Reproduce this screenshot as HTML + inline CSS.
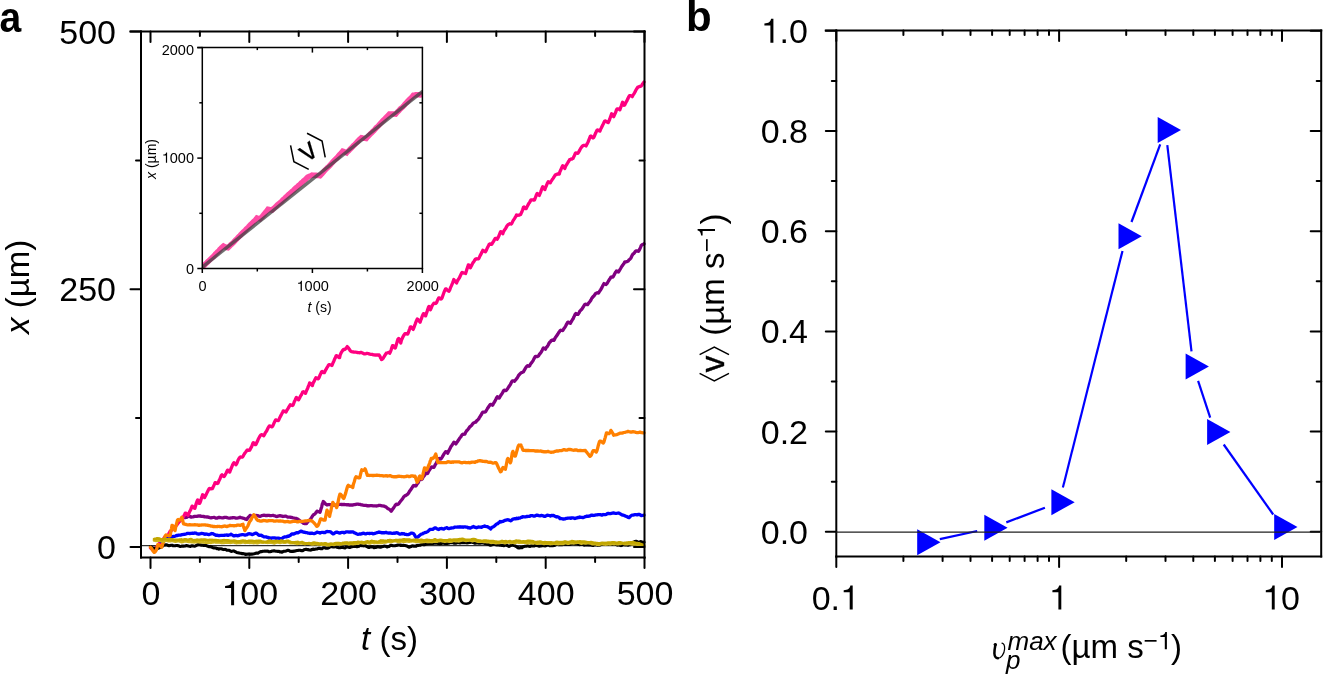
<!DOCTYPE html>
<html><head><meta charset="utf-8"><style>
html,body{margin:0;padding:0;background:#fff;width:1323px;height:675px;overflow:hidden}
svg{display:block;font-family:"Liberation Sans",sans-serif;will-change:transform}
</style></head><body>
<svg width="1323" height="675" viewBox="0 0 1323 675" font-family="Liberation Sans, sans-serif">
<rect width="1323" height="675" fill="#fff"/>
<line x1="141" y1="545.7" x2="644.5" y2="545.7" stroke="#000" stroke-width="1" />
<path d="M184 517.7 L185 517.7 L186 517.4 L187 517.1 L188 516.3 L189 516.5 L190 516.4 L191 517 L192 517 L193 516.8 L194 516.5 L195 516.4 L196 516.3 L197 516.3 L198 516 L199 516.1 L200 515.8 L201 516.3 L202 516.3 L203 516.5 L204 516.4 L205 516.9 L206 516.9 L207 517 L208 516.9 L209 517.4 L210 517.7 L211 517.9 L212 517.7 L213 517.5 L214 517.3 L215 517.7 L216 518.1 L217 518.1 L218 517.7 L219 517.4 L220 517.5 L221 517.7 L222 517.8 L223 517.8 L224 517.5 L225 517.4 L226 517.4 L227 517.7 L228 518 L229 518.2 L230 518.1 L231 517.9 L232 517.9 L233 517.6 L234 517.7 L235 517.8 L236 518.2 L237 518.1 L238 517.9 L239 517.6 L240 517.2 L241 517.7 L241.9 517.8 L242.9 518.2 L243.8 518.3 L244.8 518.7 L245.7 519.2 L246.7 519.5 L247.4 518.6 L248 517.7 L248.7 516.9 L249.3 516.3 L250 515.4 L251 515.8 L252 516 L253 516 L254 515.6 L255 515.5 L256 515.6 L257 515.5 L258 515.7 L259 516.1 L260 516.3 L261 516 L262 515.5 L263 515.3 L264 515.2 L265 515.3 L266 515.6 L267 515.5 L268 515.4 L269 515.4 L270 515.6 L271 515.7 L272 515.5 L273 515.3 L274 515.6 L275 515.8 L276 516.4 L277 516.5 L278 516.1 L279 515.9 L280 515.7 L281 516 L282 516.1 L283 516.5 L284 516.3 L285 516.2 L286 516.2 L287 516.7 L288 517.1 L289 517.1 L290 517.1 L291 517.4 L292 517.5 L293 517.8 L294 518 L295 518.3 L296 518.4 L297 518.8 L298 519.3 L299 520.1 L300 520.9 L300.9 521.5 L301.9 522.1 L302.8 522.6 L303.7 523.4 L304.6 523.5 L305.6 523.6 L306.5 523.6 L307.1 522.6 L307.8 521.8 L308.4 521.1 L309.1 520.6 L309.8 520.1 L310.4 519.2 L311.1 518.2 L311.7 517.3 L312.4 516.2 L313 515.3 L313.8 514.6 L314.6 514.2 L315.4 513.4 L316.2 512.4 L317 511.2 L318 511.5 L319 511.7 L320 512.2 L320.3 511.4 L320.6 510.4 L320.9 509.2 L321.2 508.2 L321.5 507.5 L321.8 506.4 L322.1 504.9 L322.4 503.6 L322.7 503.1 L323 502.5 L323.3 501.5 L324 502.2 L324.8 503 L325.5 504.1 L326.3 504.5 L327 505 L328 504.7 L329 504.5 L330 504.7 L331 505 L332 505.3 L333 505.2 L334 505.1 L335 505.2 L336 505.2 L337 505 L338 504.6 L339 504.3 L340 504.3 L341 504.5 L342 504.5 L343 504.6 L344 504.3 L345 504.7 L346 504.6 L347 504.8 L348 504.6 L349 505 L350 504.9 L351 505.1 L352 504.9 L353 505 L354 504.7 L355 504.5 L356 504.4 L357 504.2 L358 504.2 L359 504.4 L360 504.4 L361 504.8 L362 504.9 L363 505.2 L364 505.3 L365 505.3 L366 505.4 L367 505.8 L368 505.7 L369 505.8 L370 505.7 L371 505.7 L372 505.7 L373 505.8 L374 505.9 L375 505.8 L376 506 L377 505.9 L378 505.7 L379 505.4 L380 505.4 L381 505.6 L382 505.8 L383 506 L384 506.1 L385 506.6 L386 506.9 L386.9 507.8 L387.7 508.5 L388.6 508.9 L389.5 509.4 L390.3 510.1 L391.2 511.2 L391.9 510.3 L392.6 509.2 L393.3 508.2 L394 507.2 L394.6 506.3 L395.3 505.1 L396 504.4 L396.7 504.2 L397.4 504.6 L398.1 504.3 L398.8 503.7 L399.5 502.6 L400.2 501.7 L400.8 500.8 L401.5 500.1 L402.2 499.2 L402.9 498.3 L403.6 497 L404.3 496.3 L405 495.6 L405.7 495.5 L406.4 495.1 L407 494.5 L407.7 494.2 L408.4 493.3 L409.1 492.1 L409.8 490.9 L410.5 490.1 L411.2 489 L411.9 488 L412.6 486.8 L413.2 485.8 L413.9 485.5 L414.6 485.7 L415.3 486 L416 485.8 L416.7 484.7 L417.4 483.6 L418.1 482.9 L418.8 481.1 L419.4 479.6 L420.1 478.2 L420.8 479 L421.5 479.5 L422.2 478.9 L422.9 477.5 L423.6 476.6 L424.3 475.7 L425 474.4 L425.6 472.8 L426.3 472.8 L427 473.5 L427.7 473.4 L428.4 471.8 L429.1 470.5 L429.8 469.5 L430.5 468.6 L431.2 467.6 L431.8 466.8 L432.5 467 L433.2 467.4 L433.9 467.3 L434.6 466.2 L435.3 464.5 L436 463.7 L436.7 462.2 L437.4 461.1 L438 459.7 L438.7 458.7 L439.4 458.5 L440.1 458.8 L440.8 459.1 L441.5 458.2 L442.2 457.1 L442.9 455.8 L443.6 454.6 L444.2 453.6 L444.9 452.6 L445.6 451.6 L446.3 451.9 L447 452 L447.7 453.2 L448.4 451.6 L449.1 450.4 L449.8 448.9 L450.4 447.7 L451.1 446.3 L451.8 445.5 L452.5 444.4 L453.2 443.3 L453.9 442.2 L454.6 442.8 L455.3 443.2 L455.9 443.9 L456.6 442.7 L457.3 441.9 L458 440.8 L458.7 439.8 L459.4 438.7 L460.1 437.6 L460.8 436.9 L461.5 435.7 L462.1 434.8 L462.8 434.2 L463.5 434.3 L464.2 434.1 L464.9 434 L465.6 432.4 L466.3 431.3 L467 430.3 L467.7 429.8 L468.3 428.9 L469 428.1 L469.7 426.8 L470.4 426.3 L471.1 425.8 L471.8 425.2 L472.5 424 L473.2 423.3 L473.9 422.7 L474.5 422.5 L475.2 422.1 L475.9 422 L476.6 420.9 L477.3 420.4 L478 419.7 L478.7 418.9 L479.4 417.5 L480.1 416.6 L480.7 415.5 L481.4 414.5 L482.1 413 L482.8 412.2 L483.5 412.1 L484.2 412.2 L484.9 411.9 L485.6 411.8 L486.3 410.5 L486.9 409.5 L487.6 408.2 L488.3 407.4 L489 406.2 L489.7 405.2 L490.4 404.3 L491.1 404.4 L491.8 404.7 L492.5 405.3 L493.1 404.3 L493.8 403 L494.5 401.9 L495.2 400.6 L495.9 399.2 L496.6 397.7 L497.3 396.8 L498 397.2 L498.7 398 L499.3 398 L500 396.7 L500.7 395.5 L501.4 394.4 L502.1 393.5 L502.8 392.2 L503.5 390.9 L504.2 390.1 L504.9 390.4 L505.5 390.7 L506.2 390.4 L506.9 389.6 L507.6 388.7 L508.3 387.5 L509 386.6 L509.7 385.4 L510.4 384.5 L511.1 383.1 L511.7 381.7 L512.4 380.8 L513.1 380.8 L513.8 380.9 L514.5 381.3 L515.2 380.3 L515.9 379.7 L516.6 378.6 L517.3 377.8 L517.9 376.7 L518.6 375.4 L519.3 374.6 L520 373.8 L520.7 373.1 L521.4 372.7 L522.1 372.5 L522.8 372 L523.5 371.8 L524.1 370.5 L524.8 369.4 L525.5 368 L526.2 367.2 L526.9 366.1 L527.6 365.7 L528.3 366 L529 366.3 L529.7 365.7 L530.3 364.4 L531 363.4 L531.7 362.6 L532.4 361.6 L533.1 360.6 L533.8 359.1 L534.5 357.8 L535.2 356.6 L535.9 356.4 L536.5 356.5 L537.2 356.6 L537.9 356.2 L538.6 355.8 L539.3 354.4 L540 353.6 L540.7 352.8 L541.4 351.8 L542.1 350.4 L542.7 349.1 L543.4 348 L544.1 348.4 L544.8 348.6 L545.5 349.2 L546.2 347.6 L546.9 347 L547.6 346 L548.3 344.8 L548.9 343.5 L549.6 342.4 L550.3 341.9 L551 340.8 L551.7 340.4 L552.4 340 L553.1 340.3 L553.8 340.4 L554.5 339.5 L555.1 337.9 L555.8 337 L556.5 336.1 L557.2 335 L557.9 334 L558.6 332.7 L559.3 332 L560 330.8 L560.7 330.2 L561.3 330.4 L562 330.4 L562.7 330.5 L563.4 329.5 L564.1 328.3 L564.8 327.4 L565.5 326.3 L566.2 324.9 L566.9 323.6 L567.5 322.4 L568.2 322.1 L568.9 322.3 L569.6 323 L570.3 323.3 L571 322.1 L571.7 321 L572.4 319.7 L573.1 318.9 L573.7 317.3 L574.4 315.9 L575.1 314.3 L575.8 313.5 L576.5 313.8 L577.2 314.3 L577.9 314.4 L578.6 313.5 L579.3 312.3 L579.9 311.1 L580.6 310.4 L581.3 309.6 L582 309.1 L582.7 307.7 L583.4 306.7 L584.1 305.5 L584.8 304.5 L585.4 304.2 L586.1 304.3 L586.8 304.6 L587.5 304.7 L588.2 303.7 L588.9 302.8 L589.6 301.9 L590.3 301 L591 300 L591.6 298.5 L592.3 297.7 L593 296.7 L593.7 296.2 L594.4 295.2 L595.1 294.2 L595.8 293.3 L596.5 293.2 L597.2 292.8 L597.8 292.7 L598.5 293 L599.2 291.9 L599.9 290.8 L600.6 289.9 L601.3 288.7 L602 287.4 L602.7 285.8 L603.4 284.7 L604 283.6 L604.7 284 L605.4 284.2 L606.1 284.5 L606.8 283.7 L607.5 282.7 L608.2 281.5 L608.9 280.3 L609.6 279.3 L610.2 278.3 L610.9 277.1 L611.6 277 L612.3 277.2 L613 277.1 L613.7 275.7 L614.4 274.4 L615.1 273 L615.8 272 L616.4 271 L617.1 271.2 L617.8 271.8 L618.5 272 L619.2 270.8 L619.9 269.7 L620.6 268.5 L621.3 267.2 L622 266.1 L622.6 265.4 L623.3 264.3 L624 263.4 L624.7 262.1 L625.4 261.8 L626.1 261.8 L626.8 261.6 L627.5 261.4 L628.2 261 L628.8 260.1 L629.5 259.5 L630.2 258.8 L630.9 258.1 L631.6 256.5 L632.3 255.1 L633 254 L633.7 253.6 L634.4 252.8 L635 251.8 L635.7 251 L636.4 250.8 L637.1 250.9 L637.8 251.2 L638.5 251.3 L639.2 250.2 L639.9 248.8 L640.6 247.2 L641.2 245.7 L641.9 244.9 L642.6 244.5 L643.3 244.2 L644 243.8" fill="none" stroke="#800080" stroke-width="3.3" stroke-linejoin="round" stroke-linecap="round"/>
<path d="M150.5 548 L151.3 548.6 L152.2 549.3 L153 550.3 L153.7 550 L154.4 549.1 L155 548.5 L155.7 547.7 L156.4 547.3 L157.1 546.5 L157.8 545.7 L158.5 544.7 L159.1 543.7 L159.8 542.8 L160.5 542.3 L161.2 541.4 L161.9 540.6 L162.6 539.8 L163.2 539.2 L163.9 538.4 L164.6 537.2 L165.3 536.6 L166 536 L166.7 535.8 L167.3 535.3 L168 534.9 L168.7 533.8 L169.4 532.6 L170.1 531.3 L170.8 530.7 L171.4 530.3 L172.1 529.8 L172.8 528.9 L173.5 528 L174.2 527.3 L174.9 526.8 L175.5 526.3 L176.2 525.6 L176.9 524.9 L177.6 523.8 L178.3 523 L179 522.1 L179.6 521.6 L180.3 520.6 L181 520.1 L181.7 519.5 L182.4 518.7 L183.1 517.4 L183.8 516.1 L184.5 514.8 L185.2 513.1 L185.9 513.2 L186.6 513.6 L187.3 514.4 L188 515.2 L188.6 514.1 L189.3 512.4 L190 510.9 L190.7 509.8 L191.4 507.8 L192.1 506.1 L192.8 506.4 L193.5 507.4 L194.2 508.2 L194.9 508.3 L195.6 505.8 L196.3 503.2 L197 501.2 L197.7 499.9 L198.4 501.6 L199.1 503.4 L199.8 503.3 L200.5 501.4 L201.2 499.1 L201.9 496.9 L202.6 494.8 L203.3 495.2 L203.9 496.4 L204.6 497.6 L205.3 496.1 L206 494.9 L206.7 493.4 L207.4 491.9 L208.1 490.5 L208.8 489.2 L209.5 488.4 L210.2 488.8 L210.9 488.9 L211.6 488.7 L212.3 488.7 L213 487.4 L213.7 485.9 L214.4 484.4 L215.1 482.6 L215.8 482.7 L216.5 483.3 L217.2 483.6 L217.9 483.3 L218.6 481.6 L219.2 480.3 L219.9 479 L220.6 477.2 L221.3 475.4 L222 474.8 L222.7 475.6 L223.4 476.2 L224.1 476.6 L224.8 475.6 L225.5 474.2 L226.2 473 L226.9 471.4 L227.6 470.1 L228.3 470.4 L229 470.9 L229.7 472.1 L230.4 470.2 L231.1 468.5 L231.8 466.8 L232.5 465.1 L233.2 463.7 L233.9 462.7 L234.5 463.7 L235.2 463.9 L235.9 464.7 L236.6 463.7 L237.3 462.2 L238 460.3 L238.7 459 L239.4 458 L240.1 457.1 L240.8 457 L241.5 457.2 L242.2 457.1 L242.9 456.6 L243.6 455.2 L244.3 454 L245 452.9 L245.7 452.2 L246.4 451 L247.1 450.2 L247.8 450 L248.5 450.3 L249.1 450 L249.8 450.2 L250.5 448.6 L251.2 447.4 L251.9 446 L252.6 443.9 L253.3 442.7 L254 443.2 L254.7 444.3 L255.4 444.7 L256.1 444.3 L256.8 442.4 L257.5 441.1 L258.2 439.3 L258.9 438 L259.6 436.7 L260.3 435.6 L261 434.8 L261.7 434.7 L262.4 434.8 L263.1 435.3 L263.8 435.7 L264.4 434.7 L265.1 433.2 L265.8 432.1 L266.5 431.2 L267.2 429.7 L267.9 428.3 L268.6 426.9 L269.3 426 L270 426.4 L270.7 426.2 L271.4 426.8 L272.1 426.8 L272.8 425.9 L273.5 424.3 L274.2 422.7 L274.9 421.3 L275.6 419.9 L276.3 420 L277 420.3 L277.7 420.6 L278.4 420.6 L279.1 419.2 L279.7 417.8 L280.4 416.4 L281.1 415.1 L281.8 413.8 L282.5 412.4 L283.2 410.9 L283.9 411.1 L284.6 411.3 L285.3 411.7 L286 412 L286.7 410.5 L287.4 409.5 L288.1 408.4 L288.8 407.1 L289.5 406 L290.2 404.8 L290.9 405.2 L291.6 405.2 L292.3 405.5 L293 405.2 L293.7 403.4 L294.3 401.7 L295 400.5 L295.7 398.7 L296.4 397.4 L297.1 398.1 L297.8 399.1 L298.5 399.8 L299.2 398.6 L299.9 397.4 L300.6 395.8 L301.3 394.9 L302 393.5 L302.7 392 L303.4 391.7 L304.1 392 L304.8 392.2 L305.5 393.3 L306.2 391.5 L306.9 389.8 L307.6 388.4 L308.3 386.4 L309 385 L309.6 382.9 L310.3 383.2 L311 384.1 L311.7 384.9 L312.4 385.6 L313.1 383.1 L313.8 381.9 L314.5 380.5 L315.2 379.1 L315.9 377.7 L316.6 378 L317.3 378.4 L318 378.8 L318.7 378.3 L319.4 376.8 L320.1 374.9 L320.8 373.5 L321.5 371.9 L322.2 371.5 L322.9 372.1 L323.6 372.6 L324.3 372.7 L324.9 371.5 L325.6 370 L326.3 369 L327 367.6 L327.7 366.6 L328.4 365.2 L329.1 364.6 L329.8 364.9 L330.5 364.8 L331.2 364.9 L331.9 365.5 L332.6 363.9 L333.3 362.2 L334 360.7 L334.7 358.9 L335.4 357.7 L336.1 355.9 L336.8 355.7 L337.5 356.3 L338.2 357 L338.9 357.5 L339.6 357.6 L340.2 354.9 L340.9 353.3 L341.6 351.9 L342.3 351 L343 349.9 L343.7 349.3 L344.4 349.6 L345.1 349.2 L345.8 348.6 L346.5 347.6 L347.2 346.6 L347.9 347.4 L348.6 348.2 L349.3 349.2 L350 350.4 L350.7 351.2 L351.7 351.6 L352.7 351.9 L353.8 352 L354.8 352.2 L355.8 352.2 L356.8 352.3 L357.9 352.6 L358.9 352.6 L359.9 352.8 L360.9 352.4 L361.9 352.8 L363 353.3 L364 353.8 L365 353.8 L366 353.6 L367 353.3 L368 353.5 L369 353.8 L370 354.1 L371 354.3 L372.1 354.3 L373.1 354.8 L374.1 354.9 L375.1 355 L376.1 355.1 L377.1 354.8 L378.1 355.1 L379.1 354.9 L379.6 355.9 L380.1 356.5 L380.5 357.7 L381 358.4 L381.5 359.6 L382.2 359.2 L382.9 358.6 L383.6 357.5 L384.3 356.3 L384.9 355.3 L385.6 354.3 L386.3 353.2 L387 353 L387.7 352.8 L388.4 352.5 L389.1 352.4 L389.8 353.2 L390.5 351.6 L391.1 350 L391.8 347.6 L392.5 345.7 L393.2 345.6 L393.9 346.9 L394.6 347.9 L395.3 348 L396 345.8 L396.7 343.4 L397.3 341.3 L398 339.1 L398.7 338.4 L399.4 339.9 L400.1 341.5 L400.8 343 L401.5 340 L402.2 338.5 L402.9 337.1 L403.5 335.7 L404.2 334.7 L404.9 333.7 L405.6 333.7 L406.3 333.7 L407 334 L407.7 334 L408.4 332.5 L409.1 330.4 L409.7 328.8 L410.4 326.8 L411.1 326.9 L411.8 327.9 L412.5 328.7 L413.2 329.4 L413.9 327.6 L414.6 325.6 L415.3 323.8 L415.9 322.1 L416.6 320.5 L417.3 319 L418 319.6 L418.7 320.6 L419.4 321.3 L420.1 322.2 L420.8 319.9 L421.5 318.5 L422.1 316.6 L422.8 315 L423.5 313.6 L424.2 314.2 L424.9 314.5 L425.6 315.9 L426.3 313.7 L427 311.9 L427.7 309.5 L428.4 307.4 L429 306.4 L429.7 308.2 L430.4 309.7 L431.1 308.3 L431.8 306.5 L432.5 305.1 L433.2 304.1 L433.9 303.1 L434.6 303.3 L435.2 303.5 L435.9 303.3 L436.6 302.6 L437.3 300.7 L438 299.4 L438.7 297.9 L439.4 298 L440.1 298.3 L440.8 299 L441.4 298.9 L442.1 297.8 L442.8 295.8 L443.5 293.8 L444.2 291.8 L444.9 290.2 L445.6 288.9 L446.3 289 L447 289.9 L447.6 290.4 L448.3 290.9 L449 291.2 L449.7 290 L450.4 287.9 L451.1 286.4 L451.8 284.8 L452.5 283.1 L453.2 281.2 L453.8 279.5 L454.5 280.3 L455.2 281 L455.9 282.2 L456.6 283 L457.3 281.1 L458 280 L458.7 278.8 L459.4 277.9 L460 276.5 L460.7 274.9 L461.4 273.5 L462.1 272.4 L462.8 272.9 L463.5 272.9 L464.2 273.1 L464.9 273 L465.6 273.6 L466.2 271.6 L466.9 269.2 L467.6 267.4 L468.3 264.9 L469 265.1 L469.7 266.1 L470.4 267.8 L471.1 266.3 L471.8 265.1 L472.4 263.8 L473.1 262.5 L473.8 261.8 L474.5 260.5 L475.2 259.4 L475.9 258.9 L476.6 259.1 L477.3 258.8 L478 258.9 L478.6 258.8 L479.3 257.4 L480 255.9 L480.7 254.7 L481.4 253.2 L482.1 251.9 L482.8 250.3 L483.5 250.8 L484.2 251.1 L484.8 251.7 L485.5 251.8 L486.2 250.5 L486.9 248.9 L487.6 247.3 L488.3 246.2 L489 244.6 L489.7 244 L490.4 243.9 L491 244.3 L491.7 244.3 L492.4 243.1 L493.1 242 L493.8 240.9 L494.5 239.6 L495.2 238.5 L495.9 238.6 L496.6 238.4 L497.2 239.3 L497.9 238 L498.6 236.5 L499.3 234.8 L500 233 L500.7 231.6 L501.4 232.3 L502.1 232.9 L502.8 233.7 L503.4 231.9 L504.1 230.7 L504.8 229.6 L505.5 228.7 L506.2 227.4 L506.9 226.1 L507.6 225.2 L508.3 224.5 L509 224.2 L509.6 223.7 L510.3 223.8 L511 224.1 L511.7 223.6 L512.4 222.1 L513.1 220.6 L513.8 219.6 L514.5 218.6 L515.2 217.4 L515.9 216.3 L516.5 214.9 L517.2 215.2 L517.9 215.3 L518.6 215.2 L519.3 215.1 L520 214.7 L520.7 214.5 L521.4 212.7 L522.1 211.2 L522.7 209.6 L523.4 207.4 L524.1 206.9 L524.8 207.8 L525.5 208.6 L526.2 208.5 L526.9 207 L527.6 205.7 L528.3 204.4 L528.9 203.3 L529.6 202.4 L530.3 201.1 L531 199.8 L531.7 199.8 L532.4 199.8 L533.1 200 L533.8 200.1 L534.5 199.9 L535.1 198.3 L535.8 196.5 L536.5 194.6 L537.2 193.5 L537.9 194.4 L538.6 195 L539.3 195.4 L540 193.7 L540.7 192.1 L541.3 190.2 L542 188.2 L542.7 186.8 L543.4 187.9 L544.1 188.7 L544.8 189.6 L545.5 187.7 L546.2 186 L546.9 184.4 L547.5 183 L548.2 181.7 L548.9 182.3 L549.6 182.6 L550.3 182.9 L551 181.3 L551.7 180.4 L552.4 179.3 L553.1 178.4 L553.7 177.5 L554.4 176.3 L555.1 175.2 L555.8 174.6 L556.5 174.5 L557.2 174.1 L557.9 174 L558.6 173.6 L559.3 174 L559.9 171.7 L560.6 170.3 L561.3 168.7 L562 167.1 L562.7 165.7 L563.4 166.3 L564.1 167.3 L564.8 168.5 L565.5 166.4 L566.1 165.4 L566.8 164.3 L567.5 163.2 L568.2 162 L568.9 161 L569.6 159.7 L570.3 159.5 L571 159 L571.7 159.2 L572.3 158.7 L573 158.5 L573.7 156.9 L574.4 155.5 L575.1 153.8 L575.8 152.8 L576.5 153 L577.2 153.3 L577.9 153.3 L578.5 152.4 L579.2 151.2 L579.9 149.9 L580.6 148.4 L581.3 147.5 L582 146.6 L582.7 145.8 L583.4 145.5 L584.1 145.4 L584.7 145.3 L585.4 145.3 L586.1 145.9 L586.8 144.4 L587.5 143.1 L588.2 141.7 L588.9 139.9 L589.6 138.1 L590.3 136.2 L590.9 136 L591.6 136.6 L592.3 137.5 L593 138.1 L593.7 137.5 L594.4 136 L595.1 134.3 L595.8 132.8 L596.5 131.2 L597.1 130.1 L597.8 130 L598.5 130.7 L599.2 130.7 L599.9 131.1 L600.6 129.3 L601.3 128 L602 126.5 L602.7 125 L603.4 123.7 L604 122.4 L604.7 121.1 L605.4 121 L606.1 121.4 L606.8 121.8 L607.5 122.2 L608.2 122.6 L608.9 121.2 L609.6 119.5 L610.2 117.8 L610.9 115.7 L611.6 113.8 L612.3 114.8 L613 116.1 L613.7 116.7 L614.4 115 L615.1 113.5 L615.8 112 L616.4 110.1 L617.1 108.8 L617.8 108.8 L618.5 109.2 L619.2 109 L619.9 109.8 L620.6 107.6 L621.3 105.8 L622 103.8 L622.6 102.2 L623.3 103.7 L624 105.3 L624.7 105 L625.4 103.6 L626.1 102 L626.8 101 L627.5 99.4 L628.2 98.1 L628.8 96.7 L629.5 95.7 L630.2 95.6 L630.9 95.9 L631.6 96 L632.3 96.7 L633 95.1 L633.7 94.2 L634.4 93.1 L635 91.9 L635.7 90.5 L636.4 89.2 L637.1 88.3 L637.8 87.1 L638.5 87 L639.2 86.5 L639.9 86.5 L640.6 86.2 L641.2 85.9 L641.9 85.3 L642.6 83.8 L643.3 83 L644 82.1" fill="none" stroke="#ff0080" stroke-width="3.3" stroke-linejoin="round" stroke-linecap="round"/>
<path d="M161 541.5 L161.9 540.8 L162.8 540.1 L163.8 539.7 L164.7 538.9 L165.6 538.6 L166.6 537.8 L167.5 537.3 L168.4 536.7 L169.4 536.6 L170.4 537.1 L171.4 536.7 L172.4 536.8 L173.4 536.3 L174.5 536.3 L175.5 536 L176.5 535.5 L177.5 535.5 L178.5 535.1 L179.5 535.2 L180.5 535.1 L181.5 534.7 L182.5 534.7 L183.5 534.3 L184.5 534.4 L185.5 534 L186.6 533.8 L187.6 533.3 L188.6 533.4 L189.6 533.6 L190.6 533.3 L191.6 533.4 L192.6 533.1 L193.6 533.3 L194.6 533 L195.7 533.1 L196.7 533.6 L197.7 533.9 L198.7 534.2 L199.7 533.8 L200.7 533.6 L201.7 533.3 L202.8 533.5 L203.8 533.9 L204.8 534.3 L205.8 534 L206.8 534.1 L207.8 534.3 L208.8 534.7 L209.9 534.3 L210.9 533.9 L211.9 533.5 L212.9 533.7 L213.9 534.3 L214.9 534.8 L215.9 535.3 L217 535.2 L218 535.5 L219 535.6 L220 535.5 L221 535.3 L222 535.4 L223 535.4 L224 535.4 L225 535.1 L226 535.1 L227 535 L228 535.4 L229 535 L230 534.8 L231 534.2 L232 534.8 L233 535.4 L234 535.9 L235 535.6 L236 535.5 L237 535.6 L238 535.8 L239 535.4 L240 535 L241 534.8 L242 534.7 L243.1 534.7 L244.1 534.8 L245.1 535.2 L246.1 534.8 L247.1 534.6 L248.1 533.8 L249.2 533.7 L250.2 533.8 L251.2 534.1 L252.2 534.7 L253.2 534.3 L254.2 533.7 L255.3 533.2 L256.3 533.2 L257.3 533.8 L258.3 534.8 L259.2 535.3 L260.2 535.4 L261.1 535.2 L262.1 535.9 L263.1 536.3 L264 536.9 L265 536.9 L266 536.8 L267 537.3 L268 537.4 L269 538.2 L270 537.8 L271 538.5 L272 537.8 L273 537.8 L274 537.8 L275 537.9 L276 538.5 L277 538.2 L278 538.1 L279 538.2 L280 538.6 L280.9 539 L281.9 538.6 L282.9 537.8 L283.8 537.3 L284.8 536.9 L285.7 536.9 L286.6 536.9 L287.6 536.2 L288.6 536.3 L289.5 535.8 L290.4 535.3 L291.4 534.2 L292.3 533.8 L293.3 534.1 L294.2 533.9 L295.2 533.3 L296.1 532.9 L297.1 532.6 L298 532.8 L299 532.2 L299.9 531.8 L300.9 531.1 L301.9 531.4 L302.9 531.9 L303.9 532.3 L304.9 532.2 L306 532.6 L307 532.6 L308 533.2 L309 533.2 L310 533.5 L311 533.1 L312 533.2 L313 533.5 L314 533.7 L315 533.4 L316 532.8 L317 532.1 L318 532.4 L319 532.6 L320 533.1 L321 532.5 L322 532.3 L323 532.3 L324 532.6 L325 532.5 L326 531.9 L327 531.5 L328 531.6 L329 531.6 L330 531.7 L331 532.1 L332 533.2 L333 533.9 L334 533.6 L335 532.7 L336 532.2 L337 532.2 L338 532.5 L339 532.9 L340 533.1 L341 532.6 L342 532.4 L343 532.3 L344 532.8 L345 532.5 L346 531.9 L347 531.8 L348 531.9 L349 532.1 L350 532 L351 532 L352 531.9 L353 531.9 L354 532.6 L355 533 L356 533.5 L357 534 L358 534.3 L359 534.2 L360 533.9 L361 534 L362 533.6 L363 533.2 L364 533.4 L365 533.8 L366 533.9 L367 533.3 L368 533.3 L369 533.5 L370 533.5 L371 533.3 L372 533.3 L373 533.8 L374 533.7 L375 533.3 L376 533 L377 532.7 L378 532.4 L379 532 L380 532.4 L381 532.5 L382 532.9 L383 532.7 L384 532.9 L385 532.6 L386 532.3 L387 532.8 L388 533 L389 533.1 L390 532.8 L391 533.2 L392 533.3 L393 533.3 L394 533 L395 533.3 L396 532.9 L397 532.7 L398 533.1 L399 533.8 L400 534.2 L401 533.9 L402 533.5 L403 533.8 L404 533.7 L405 534.3 L406 534.3 L407 534.7 L408 534.7 L409 534.4 L410 533.8 L411 533.2 L412 533.2 L413 533.3 L413.8 533.9 L414.6 535 L415.3 536.4 L416.1 537.5 L417 537.3 L417.9 536.9 L418.9 536.1 L419.8 535.3 L420.7 534.4 L421.6 534 L422.5 533.8 L423.4 533.2 L424.4 533 L425.3 532.3 L426.2 532.4 L427.1 531.9 L428 531.3 L428.9 530.4 L429.9 529.5 L430.8 529.4 L431.7 529.4 L432.7 529.4 L433.7 528.6 L434.7 528 L435.7 528 L436.8 528.7 L437.8 529.1 L438.8 529.5 L439.8 528.7 L440.8 528.6 L441.8 528.4 L442.8 528.9 L443.8 529 L444.8 528.4 L445.9 528 L446.9 527.7 L447.9 528.4 L448.9 528.7 L449.9 528.3 L450.9 528 L451.9 528 L452.9 527.8 L453.9 527.6 L454.9 527.1 L456 527.1 L457 527.1 L458 527 L459 527.1 L460 526.7 L461 527.1 L462.1 526.9 L463.1 527.3 L464.1 526.9 L465.1 526.9 L466.2 527.1 L467.2 527.1 L468.2 527.8 L469.2 527.7 L470.3 528.2 L471.3 527.5 L472.3 527.2 L473.3 526.5 L474.4 527.1 L475.4 527.4 L476.4 527.8 L477.4 527.4 L478.5 527 L479.5 527.1 L480.5 527.1 L481.5 527.3 L482.6 526.7 L483.6 526.5 L484.6 526 L485.6 526.4 L486.7 526.7 L487.7 526.7 L488.7 527.6 L489.8 528 L490.8 528.9 L491.6 527.7 L492.5 527.1 L493.3 526.8 L494.2 526.2 L495 525.5 L495.9 524.6 L496.7 523.9 L497.6 523.8 L498.4 522.9 L499.3 522.7 L500.1 521.4 L501.1 521.9 L502.1 521.4 L503.1 521.4 L504 520.8 L505 520.4 L506 520.2 L507 519.8 L508 519.7 L509 520.1 L509.9 520.5 L510.9 520.8 L511.9 519.9 L512.9 519.1 L513.9 518.9 L514.9 518.7 L515.8 518.9 L516.8 518.2 L517.8 518.7 L518.8 518 L519.8 518.2 L520.8 517.5 L521.7 517.4 L522.7 516.6 L523.7 516.8 L524.7 516.9 L525.7 516.9 L526.6 516.4 L527.6 516.5 L528.6 516.3 L529.6 516.3 L530.6 515.6 L531.7 515.6 L532.7 515.7 L533.8 516.1 L534.8 516.1 L535.8 515.6 L536.9 515.1 L537.9 515.4 L538.9 515.7 L540 515.8 L541 515.5 L542 515.5 L543.1 515.8 L544.1 516.3 L545.2 516.3 L546.2 515.8 L547.2 515.2 L548.3 515.3 L549.3 515.5 L550.4 516 L551.4 515.4 L552.4 515.7 L553.5 515.4 L554.5 516 L555.4 516.4 L556.3 517 L557.3 516.7 L558.2 517.1 L559.1 517.5 L560 518.6 L561 518.5 L561.9 518.7 L562.8 519 L563.8 519 L564.8 518.9 L565.8 518.4 L566.8 518.4 L567.8 518.2 L568.8 518.2 L569.9 518 L570.9 518.3 L571.9 517.8 L572.9 517.9 L573.9 518.1 L574.9 518.5 L575.9 518.1 L576.9 517.9 L577.9 517.4 L578.9 517.6 L579.9 517 L580.9 517.3 L581.9 517.3 L582.9 517.6 L584 517.2 L585 516.7 L586 516.6 L587 516.1 L588 516.3 L589 516 L590 516 L591 515.2 L592 515.1 L593.1 515.5 L594.1 515.3 L595.1 515.1 L596.1 514.9 L597.1 514.9 L598.1 514.7 L599.2 514.6 L600.2 514.7 L601.2 515 L602.2 515 L603.2 514.5 L604.2 514.7 L605.3 514.6 L606.3 514.4 L607.3 513.7 L608.3 513.4 L609.3 513.7 L610.4 513.7 L611.4 513.3 L612.4 513.1 L613.4 512.9 L614.4 513.2 L615.4 513.4 L616.5 513.3 L617.5 513.2 L618.5 513 L619.5 513.4 L620.4 514 L621.4 514.5 L622.4 515.1 L623.3 515.2 L624.3 515.5 L625.2 516 L626.2 516.3 L627.2 516.8 L628.1 517.4 L629.1 517.7 L630.1 516.6 L631.1 515.6 L632 515.1 L633 515.1 L634 514.9 L635 514.7 L636 514.7 L637 514.9 L638 514.4 L639 514.4 L640 514.7 L641 515.6 L642 515.5 L643 515.3 L644 515.2" fill="none" stroke="#0000ff" stroke-width="3.3" stroke-linejoin="round" stroke-linecap="round"/>
<path d="M150.5 546.6 L151.4 547.1 L152.2 547.6 L153.1 548.1 L154 548.3 L155 548.3 L156 548.6 L157 548.8 L158 548.2 L159 547.9 L160 547.5 L161 547.3 L162 546.3 L163 545.8 L164 544.9 L165 545.1 L166 544.8 L167.1 545.1 L168.1 545.4 L169.1 545.7 L170.1 545.5 L171.2 545.3 L172.2 545.2 L173.2 545.8 L174.2 545.7 L175.2 545.7 L176.2 545.5 L177.3 545.5 L178.3 545.8 L179.3 546.1 L180.3 546.5 L181.3 546.3 L182.3 546 L183.3 546.1 L184.3 546.1 L185.3 545.9 L186.4 545.6 L187.4 545.8 L188.4 546.1 L189.4 546.3 L190.4 546.4 L191.4 545.8 L192.4 545.8 L193.4 546 L194.4 546.2 L195.4 545.9 L196.4 545.5 L197.4 544.9 L198.4 544.8 L199.4 544.4 L200.4 544.9 L201.5 545.1 L202.5 545.3 L203.6 545.4 L204.6 545.4 L205.7 545.4 L206.7 545.8 L207.8 546.2 L208.8 546.7 L209.9 546.5 L210.9 546.8 L212 547.2 L213 547.7 L214 548 L215 547.9 L216 548.1 L216.9 548.6 L217.9 548.6 L218.9 549.2 L219.9 548.7 L220.9 548.7 L221.9 549 L222.9 549.4 L223.9 549.6 L224.8 549.4 L225.8 549.5 L226.8 550.2 L227.8 550.2 L228.8 550.2 L229.8 550.6 L230.8 551.2 L231.8 551.4 L232.7 551.1 L233.7 550.9 L234.7 551.5 L235.7 551.9 L236.7 552.5 L237.7 552.8 L238.7 552.9 L239.7 553.1 L240.8 553.2 L241.8 553.6 L242.8 553.6 L243.8 553.8 L244.8 554 L245.8 554.5 L246.9 554.1 L247.9 554.3 L249 553.8 L250 554.4 L251 554 L252 554.1 L253 554 L254 553.8 L255 553.5 L256 553.1 L257 553.1 L258 553.1 L259 552.5 L260 551.9 L261 551.6 L262 551.6 L263 551.3 L264 551.2 L265 551.1 L266 551.2 L267 551.1 L268 551.3 L269 551.7 L270 551.8 L271 551.6 L272 551.1 L273 550.9 L274 550.7 L275 551 L276 551.2 L277 551.2 L278 551.5 L279 551.3 L280 551.9 L281 551.8 L282 552.2 L283 551.6 L284 551.3 L285 551.2 L286 551 L287 550.6 L288 550.3 L289 550.6 L290 551.3 L291 551.4 L292 551.4 L293 551.4 L294 551.1 L295 551.1 L296 550.8 L297 550.6 L298 550.4 L299 550.3 L300 550.2 L301 550.6 L302 550.6 L303 550.6 L304 549.8 L305 549.5 L306 549.3 L307 549.6 L308 549.6 L309 549.9 L310 550.1 L311 550 L312 549.5 L313 549.1 L314 549.4 L315 549.3 L316 549.1 L317 548.9 L318 548.6 L319 548.3 L320 548.4 L321 548.7 L322 548.7 L323 547.9 L324 547.8 L325 547.8 L326 548.2 L327 548.1 L328 548.2 L329 547.7 L330 546.9 L331 546.5 L332 546.6 L333 546.9 L334 546.9 L335 546.7 L336 546.8 L337 547.2 L338 547.4 L339 547.7 L340 547.8 L341 547.6 L342 547.2 L343 547.4 L344 547.7 L345 547.9 L346 547.2 L347 547 L348 547 L349 547.4 L350 547.5 L351 546.9 L352 546.7 L353 546.5 L354 546.4 L355 546.4 L356 546.3 L357 546.7 L358 546.5 L359 546.3 L360 545.5 L361 545.3 L362 545.7 L363 545.8 L364 545.9 L365 545.5 L366 546 L367 546.7 L368 547.2 L369 547.5 L370 547.1 L371 546.7 L372 546.8 L373 547.1 L374 547.8 L375 547.6 L376 547.4 L377 546.9 L378 546.6 L379 547 L380 547.1 L381 547.2 L382 546.7 L383 546.5 L384 546.1 L385 546.3 L386 546.4 L387 547 L388 546.5 L389 546.4 L390 545.7 L391 545.3 L392 545.4 L393 545.7 L394 545.8 L395 545.7 L396 545.5 L397 545.4 L398 545 L399 545 L400 545 L401 545.5 L402 545.2 L403 545.4 L404 545.4 L405 545.6 L406 545.8 L407 546.1 L408 546.6 L409 547.2 L410 546.9 L411 546.5 L412 546 L413 545.8 L414 546.3 L415 546.1 L416 546.3 L417 545.4 L418 545.5 L419 545.2 L420 545.3 L421 544.7 L422 544.4 L423 544.6 L424 544.6 L425 544.6 L426 543.9 L427 543.7 L428 543.6 L429 543.3 L430 543.5 L431 543.5 L432 543.5 L433 543.5 L434 543.3 L435 543.3 L436 543.3 L437 543.3 L438 543.4 L439 543.3 L440 543.8 L441 543.6 L442 543.1 L443 543 L444 543.1 L445 543.5 L446 543.1 L447 543.5 L448 543.2 L449 543.2 L450 542.7 L451 542.4 L452 542.8 L453 542.6 L454 543.2 L455 543.1 L456 543.2 L457 542.6 L458 542.6 L459 542.5 L460 543 L461 542.5 L462 542.8 L463 542.5 L464 542.6 L465 542.8 L466 542.6 L467 542.9 L468 542.7 L469 542.6 L470 542.4 L471 542.1 L472 542.1 L473 542.5 L474 542.8 L475 543.3 L476 542.8 L477 543.1 L478 542.9 L479 543.3 L480 543.2 L481 543 L482 542.9 L483 543 L484 543.1 L485 543.5 L486 543.6 L487 543.9 L488 544.2 L489 544.6 L490 545.1 L491 545.2 L492 544.7 L493 544.3 L494 543.8 L495 544.3 L496 544.7 L497 545 L498 544.9 L499 545 L500 545.3 L501 545.3 L502 545.5 L503 545.3 L504 545.7 L505 545.2 L506 545.1 L507 545.4 L508 545.9 L509 546.5 L510 545.9 L511 545.4 L512 545.1 L513 545.3 L514 545.6 L515 545.8 L516 546.4 L517 547 L518 547.9 L519 547.7 L520 547.9 L521 547.5 L522 547.7 L523 546.9 L524 546.5 L525 546.2 L526 546.2 L527 545.9 L528 545.9 L529 546.3 L530 546.4 L531 545.8 L532 545.8 L533 546 L534 546 L535 545.5 L536 545.1 L537 545.6 L538 545.6 L539 546.2 L540 546.1 L541 545.9 L542 545.7 L543 545.4 L544 545.8 L545 545.9 L546 545.7 L547 545.1 L548 545.1 L549 545.2 L550 545.8 L551 545.5 L552 545.7 L553 545.6 L554 545.5 L555 545.2 L556 544.5 L557 544.5 L558 544.4 L559 544.7 L560 544.8 L561 544.5 L562 544.7 L563 543.9 L564 544.3 L565 544.3 L566 544.4 L567 544.2 L568 544.2 L569 544.5 L570 544.4 L571 543.9 L572 543.5 L573 543.4 L574 543.6 L575 543.8 L576 543.8 L577 543.6 L578 544.1 L579 544.5 L580 544.6 L581 544.3 L582 544.2 L583 544.4 L584 545.1 L585 545 L586 544.9 L587 544.9 L588 544.8 L589 545.1 L590 544.7 L591 545.2 L592 545.2 L593 545.5 L594 545 L595 545 L596 544.9 L597 545.1 L598 545.1 L599 545.3 L600 545 L601 544.6 L602 544.2 L603 544.2 L604 544 L605 543.9 L606 543.9 L607 544.3 L608 544.4 L609 544.3 L610 544 L611 544.1 L612 544.3 L613 544.2 L614 544 L615 543.7 L616 544.4 L617 545 L618 545.1 L619 544.9 L620 545.2 L621 545.6 L622 545.2 L623 544.8 L624 544.8 L625 544.9 L626 544.9 L627 544.7 L628 545.3 L629 544.8 L630 544.8 L631 544.3 L632 543.8 L633 543 L634 541.9 L635 541.5 L636 541.3 L637 541.6 L638 542.2 L639 542.3 L640 541.8 L641 541.6 L642 542 L643 542.6 L644 542.1" fill="none" stroke="#000" stroke-width="3.1" stroke-linejoin="round" stroke-linecap="round"/>
<path d="M150.5 547.2 L151.1 547.9 L151.7 548.6 L152.3 549.8 L153 550.9 L153.6 551.7 L154.2 552.4 L154.8 552.1 L155.4 551.4 L156 550.6 L156.7 549 L157.3 546.7 L157.9 544.4 L158.5 544.7 L159.1 545.3 L159.7 545.8 L160.3 546 L160.9 546.7 L161.6 547.3 L162.2 545.7 L162.8 543.7 L163.4 542 L164 540.1 L164.6 538.2 L165.2 535.9 L165.9 535 L166.5 535.3 L167.1 535.3 L167.7 535.4 L168.3 535.4 L168.9 535.8 L169.5 535.9 L170.1 535.6 L170.8 532.1 L171.4 529 L172 525.4 L172.6 525.6 L173.2 527 L173.8 528.3 L174.4 529.5 L175.1 530.6 L175.7 527 L176.3 524.8 L176.9 522.4 L177.5 520 L178.1 519.5 L178.7 520.1 L179.3 520.1 L180 519.9 L180.6 519.5 L181.2 518.4 L181.8 517.2 L182.1 518.2 L182.3 519 L182.6 520.2 L182.8 521.2 L183.1 522.2 L183.3 523.1 L183.6 523.9 L184.6 524.1 L185.7 524.4 L186.7 524.7 L187.7 524.9 L188.7 524.9 L189.8 524.7 L190.8 524.9 L191.8 524.9 L192.8 524.9 L193.8 524.9 L194.9 524.7 L195.9 524.8 L196.9 524.9 L197.9 525 L199 525.4 L200 525 L201 525.2 L202 524.8 L203 525 L204 524.8 L205 524.9 L206 525.2 L207 525.1 L208 525.4 L209 525.5 L210 525.7 L211 526.1 L212 526.1 L213 526.5 L214 526.4 L215 526.6 L216 526.7 L217 526.5 L218 526.5 L219 526.3 L220 526.7 L221 526.6 L222 526.8 L223 526.4 L224 526.1 L225 526 L226 526.4 L227 526.6 L228 526.1 L229 525.8 L230 525.4 L231 525.6 L232 525.7 L233 525.6 L234 525.8 L235 525.6 L236 525.7 L237 525.2 L238 525 L239 525.2 L240 525.4 L241 525.1 L242 524.6 L243 524.3 L243.3 525.6 L243.6 526.7 L243.9 527.9 L244.3 528.5 L244.6 529.8 L244.9 530.6 L245.4 529.6 L245.9 528.9 L246.4 528.1 L246.9 527.5 L247.4 526.6 L247.9 525.9 L248.4 524.6 L248.9 523.5 L249.4 522.1 L249.8 521.5 L250.3 520.9 L250.8 520.4 L251.3 519.3 L251.8 518 L252.3 517.1 L252.8 516.6 L253.3 515.8 L253.8 514.7 L254.4 515.3 L255 516.5 L255.6 517.3 L256.2 518.6 L256.8 519.4 L257.4 520.1 L258 520.7 L259 520.5 L260 521 L261 521.1 L262 521 L263 520.6 L264 520.5 L265 520.7 L266 520.9 L267 521 L268 520.9 L269 520.6 L270 520.7 L271 520.7 L272 520.7 L273 520.7 L274 521.1 L275 521.1 L276 521 L277 520.8 L278 521 L279 521.1 L280 521 L281 521 L282 521.2 L283 521.2 L284 521.7 L285 521.9 L286 521.7 L287 521.5 L288 521.4 L289 521.9 L290 522 L291 521.9 L292.1 521.7 L293.1 521.5 L294.2 521.2 L295.2 521.3 L296.3 521.5 L297.3 521.9 L298.4 521.8 L299.4 521.4 L300.5 521.3 L301.5 521.3 L302.6 521.3 L303.6 521.2 L304.7 521 L305.7 520.9 L306.8 520.8 L307.8 520.6 L308.9 520.4 L309.9 520.3 L310.9 520.8 L312 520.9 L312.7 521.7 L313.3 522.2 L314 522.9 L314.7 523.7 L315.4 524.5 L316 525.3 L316.7 526.4 L317.3 526.1 L318 525.6 L318.6 524.3 L319.3 522.7 L319.9 520.7 L320.6 519 L321.2 519 L321.9 519.1 L322.5 519.6 L323.1 519.8 L323.8 520.2 L324.4 520.1 L325.1 520 L325.7 516.5 L326.4 513 L327 510.1 L327.6 511.4 L328.3 513.3 L328.9 514.7 L329.6 516.4 L330.2 513.3 L330.9 510.8 L331.5 507.5 L332.2 504.8 L332.8 502.4 L333.4 503.4 L334.1 504.2 L334.7 504.6 L335.4 505.4 L336 506.3 L336.7 507.6 L337.3 505.3 L338 502.5 L338.6 499.3 L339.2 496.7 L339.9 494.1 L340.5 494.1 L341.2 494.8 L341.8 495.7 L342.5 496.8 L343.1 498 L343.7 498.5 L344.4 497 L345 495.1 L345.7 493.1 L346.3 490.7 L347 488.2 L347.6 486.2 L348.3 485.3 L348.9 485.8 L349.5 486.3 L350.2 486.3 L350.8 486.4 L351.5 486.6 L352.1 487.1 L352.8 487.5 L353.4 484.3 L354.1 482.2 L354.7 480.1 L355.3 478 L356 476.7 L356.6 477.1 L357.3 477.2 L357.9 477.6 L358.6 477.8 L359.2 477.9 L359.8 477.7 L360.5 474.5 L361.1 472 L361.8 469.8 L362.4 470.3 L363.1 470.3 L363.7 470.4 L364.4 469.7 L365 468.8 L365.4 469.6 L365.8 470.4 L366.1 471.4 L366.5 472.9 L366.9 473.9 L367.3 475.4 L368.4 475.2 L369.4 475.5 L370.5 475.3 L371.5 475.4 L372.6 475.5 L373.6 475.5 L374.7 475.4 L375.8 475.4 L376.8 475.2 L377.9 475.4 L378.9 475.4 L380 475.7 L381 475.6 L382 475.7 L383 475.9 L384 476 L385 475.8 L386 475.7 L387 476 L388 476 L389 475.8 L390 475.6 L391 476 L392 476.5 L393 476.6 L394 476.8 L395 476.6 L396 476.9 L397 476.5 L398 476.5 L399 476.2 L400 476.3 L401 476.5 L402 476.6 L403 476.7 L404 476.8 L405 476.7 L406 476.6 L407 476.1 L408 476.2 L409 476.6 L410 476.5 L411 476 L412 475.9 L413 475.9 L414 476.4 L415 476.1 L415.4 477.4 L415.7 478.1 L416.1 479.3 L416.4 480.2 L416.8 481.2 L417.1 482.3 L417.7 481.6 L418.2 480.6 L418.8 478.2 L419.4 476.3 L419.9 476 L420.5 476.9 L421.1 477.6 L421.6 478.8 L422.2 477.4 L422.8 475.2 L423.3 472.8 L423.9 470.3 L424.5 467.9 L425 468.1 L425.6 468.6 L426.2 469.3 L426.7 469.9 L427.3 468.9 L427.9 467.5 L428.4 466.2 L429 464.7 L429.6 463.3 L430.1 461.5 L430.7 460.1 L431.3 458.4 L431.8 458.5 L432.4 458.6 L433 458.3 L433.5 457.8 L434.1 457.2 L434.7 456.4 L435.2 455.3 L435.8 454 L436.1 455.4 L436.3 456.3 L436.6 457.4 L436.9 458.3 L437.1 459.5 L437.4 460.5 L437.6 461.7 L437.9 462.6 L438.9 462.7 L439.9 462.4 L440.9 462.7 L441.9 462.7 L442.9 462.6 L443.9 462.6 L444.9 462.6 L445.9 462.7 L446.9 462.2 L447.9 461.7 L448.9 462 L450 462 L451 462.4 L452 461.9 L453 462.3 L454 461.8 L455 461.8 L456 461.8 L457 461.8 L458 461.8 L459 461.9 L460 462.3 L461 462.7 L462 462.8 L463 462.5 L464 462.3 L465 462.3 L466 462.7 L467 462.7 L468 462.6 L469 462.5 L470 462.8 L471 462.4 L472 462.1 L473 462.2 L474 462.1 L475 462.4 L476 461.7 L477 461.6 L478 461 L479 460.9 L480 460.6 L481 461 L482 461 L483 461.4 L484 461.4 L485 461.5 L486 461.4 L487 461.6 L488 462.2 L489 462.3 L490 462.2 L491 462.4 L492 462.8 L493 463.2 L494 463 L495 462.7 L496 462.6 L496.5 463.4 L497 464.3 L497.5 465.5 L498 466.6 L498.5 467.9 L499 468.8 L499.5 469.6 L500 470.7 L500.5 471.8 L501.1 471.5 L501.7 470.2 L502.4 468.3 L503 467.4 L503.6 467.7 L504.2 468.4 L504.8 469 L505.4 469.2 L506.1 465.8 L506.7 462.8 L507.3 459.6 L507.9 458.4 L508.5 459.2 L509.2 460.3 L509.8 461.8 L510.4 462.8 L511 461.1 L511.6 457.1 L512.2 453.2 L512.9 451.4 L513.5 452.9 L514.1 454.7 L514.7 456.2 L515.3 456.2 L516 454 L516.6 451.9 L517.2 449.8 L517.8 447.4 L518.4 445.8 L519 445 L519.7 445.7 L520.3 445.5 L520.9 444.9 L521.3 446.1 L521.7 446.8 L522.2 448.1 L522.6 449 L523 450.3 L524.1 450.3 L525.2 450.5 L526.3 450.4 L527.5 450.5 L528.6 450.4 L529.7 450.6 L530.8 450.7 L531.8 450.6 L532.8 450.7 L533.8 450.7 L534.9 451 L535.9 450.9 L536.9 451 L537.9 451 L538.9 451.1 L539.9 451.1 L540.9 451 L542 451.5 L543 451.5 L544 451.8 L545 451.7 L546 451.8 L547 451.6 L548 451.4 L549.1 451.8 L550.1 452 L551.1 452.3 L552.1 452.1 L553.2 452.1 L554.2 451.7 L555.3 451.3 L556.4 451 L557.5 450.9 L558.5 451 L559.6 450.7 L560.7 450.7 L561.7 450.6 L562.8 450 L563.8 449.7 L564.8 449.7 L565.9 450.2 L566.9 450.1 L567.9 449.7 L568.9 449.4 L570 449.5 L571 449.6 L572 450 L573 450.2 L574 450.3 L575.1 449.9 L576.1 449.9 L577.1 450.2 L578.1 450.6 L579.2 450.7 L580.2 450.4 L581.2 450.5 L582.2 450.7 L583.3 450.6 L584.3 450.5 L585.3 450.3 L586 451.5 L586.6 452.1 L587.3 453 L588 453.8 L588.7 454.8 L589.3 455.6 L590 456.4 L590.6 456 L591.3 455 L591.9 453.6 L592.5 451.8 L593.2 450.7 L593.8 450.6 L594.4 450.6 L595.1 451.2 L595.7 451.4 L596.3 452 L597 450.6 L597.6 448.3 L598.2 445.8 L598.9 443.5 L599.5 441.4 L600.1 441.1 L600.8 441.1 L601.4 441.5 L602 441.9 L602.7 442.8 L603.3 443.1 L603.9 441.9 L604.6 439.6 L605.2 437.6 L605.8 435.3 L606.5 432.8 L607.1 432.9 L607.7 433.7 L608.4 433.7 L609 433.7 L609.6 432.9 L610.3 432 L610.9 430.4 L611.5 431.2 L612 432 L612.6 433 L613.1 434 L613.7 435.2 L614.7 434.8 L615.7 434.8 L616.8 434.7 L617.8 434.1 L618.8 433.7 L619.8 433.2 L620.9 433.2 L621.9 433.1 L622.9 432.8 L623.9 432.5 L624.9 432.3 L626 432 L627 431.8 L628 431.3 L629 431.6 L630 431.8 L631 432.1 L632 432 L633 431.7 L634 431.8 L635 432 L636 432.5 L637 432.7 L638 432.6 L639 432.4 L640 432.1 L641 432.6 L642 432.7 L643 432.8 L644 432.9" fill="none" stroke="#ff8000" stroke-width="3.3" stroke-linejoin="round" stroke-linecap="round"/>
<path d="M154.1 540.4 L155.1 540.5 L156.1 540.8 L157.2 540.5 L158.2 540.5 L159.2 540.5 L160.2 540.8 L161.2 541.1 L162.3 541.3 L163.3 541.5 L164.3 541.1 L165.3 540.9 L166.3 540.7 L167.4 540.7 L168.4 541.1 L169.4 541 L170.4 541.2 L171.4 540.8 L172.5 540.8 L173.5 541.2 L174.5 541.4 L175.5 541.6 L176.5 541.4 L177.6 541.1 L178.6 541 L179.6 541.3 L180.6 541.8 L181.6 542.2 L182.7 541.9 L183.7 541.6 L184.7 541.1 L185.7 541.3 L186.7 541.5 L187.8 541.7 L188.8 541.8 L189.8 541.9 L190.8 541.9 L191.8 542.1 L192.9 541.9 L193.9 542.3 L194.9 542.2 L195.9 542.2 L196.9 541.9 L198 541.9 L199 542.1 L200 542.3 L201 542.2 L202 542.1 L203 542.3 L204 542.3 L205 542.5 L206 542.5 L207 542.7 L208 542.6 L209 542.7 L210 542.6 L211 542.8 L212 542.4 L213 542.4 L214 542.2 L215 542.2 L216 542.5 L217 542.2 L218 542.5 L219 542.1 L220 542.6 L221 542.6 L222 543 L223 542.7 L224 542.8 L225 542.7 L226 542.6 L227 542.4 L228 542.5 L229 542.4 L230 542.8 L231 542.5 L232 542.5 L233 542 L234 542.3 L235 542.8 L236 543 L237 543 L238 542.6 L239 542.9 L240 542.9 L241 542.8 L242 542.4 L243 542.4 L244 542.3 L245 542.8 L246 542.6 L247 542.7 L248 542.6 L249 542.6 L250 542.8 L251 542.5 L252 542.8 L253 542.7 L254 543.1 L255 542.6 L256 542.9 L257 543 L258 543.1 L259 542.6 L260 542.3 L261 542.4 L262 542.5 L263 542.6 L264 542.3 L265 542.4 L266 542.5 L267 542.7 L268 542.8 L269 542.4 L270 542.6 L271 542.3 L272 542.8 L273 542.8 L274 543.3 L275 543.1 L276 542.6 L277 542.3 L278 542.4 L279 542.5 L280 542.8 L281 542.5 L282 542.4 L283 542.4 L284 542.7 L285 542.7 L286 542.3 L287 542.1 L288 542.1 L289 542.6 L290 543.1 L291 543.1 L292 543.2 L293 542.9 L294 543.2 L295 543.3 L296 543.5 L297 543.8 L298 543.7 L299 543.6 L300 543.3 L301 543.3 L302 543.4 L303 543.7 L304 543.6 L305 544 L306 543.7 L307 543.7 L308 543.6 L309 543.6 L310 543.9 L311 544.1 L312 544.4 L313 544.4 L314 544 L315 544 L316 543.9 L317 544.3 L318 544.1 L319 544.4 L320 544.3 L321 544.5 L322 544.6 L323 544.5 L324 544.4 L325 544.6 L326 544.8 L327 545.2 L328 545.2 L329 545.3 L330 545 L331 544.5 L332 544.7 L333 544.6 L334 544.8 L335 544.5 L336 544.4 L337 544.4 L338 544.1 L339 544.3 L340 544.2 L341 544.3 L342 544 L343 543.9 L344 543.8 L345 543.7 L346 543.5 L347 543.8 L348 544 L349 544.3 L350 543.7 L351 544 L352 543.7 L353 544.1 L354 543.8 L355 543.9 L356 543.6 L357 543.6 L358 543.3 L359 543.3 L360 542.8 L361 542.9 L362 543 L363 543.1 L364 543.4 L365 543.1 L366 543.2 L367 542.8 L368 543 L369 543.1 L370 543.3 L371 543 L372 542.6 L373 542.5 L374 543 L375 542.9 L376 542.8 L377 542.6 L378 543 L379 542.8 L380 542.9 L381 542.6 L382 542.9 L383 542.3 L384 542.5 L385 542.2 L386 542.3 L387 541.8 L388 541.6 L389 541.7 L390 542 L391 541.9 L392 541.6 L393 541.2 L394 541.2 L395 541 L396 541.1 L397 541.4 L398 541.8 L399 542 L400 541.6 L401 541.4 L402 541.4 L403 541.6 L404 541.8 L405 541.7 L406 541.3 L407 541.2 L408 541.4 L409 541.7 L410 541.4 L411 541.4 L412 541.1 L413 541.2 L414 541.3 L415 541.5 L416 541.9 L417 541.4 L418 541.5 L419 541.6 L420 542.1 L421 542 L422 542 L423 541.9 L424 541.9 L425 541.6 L426 541.7 L427 541.8 L428 542 L429 541.7 L430 541.9 L431 541.6 L432 542 L433 541.5 L434 541.7 L435 541.6 L436 541.7 L437 541.6 L438 541.2 L439 541.2 L440 540.9 L441 540.9 L442 541.1 L443 541.3 L444 541.5 L445 541.6 L446 541.3 L447 541.3 L448 541.4 L449 541.5 L450 541.6 L451 541.6 L452 541.4 L453 540.9 L454 540.8 L455 541 L456 541.1 L457 541 L458 541 L459 541.3 L460 540.9 L461 540.7 L462 540.2 L463 540.3 L464 540.4 L465 540.6 L466 540.9 L467 540.7 L468 540.6 L469 540.3 L470 540.3 L471 540.7 L472 541 L473 541 L474 540.7 L475 540.6 L476 541 L477 541.3 L478 541.6 L479 541.7 L480 541.7 L481 541.7 L482 541.3 L483 541.8 L484 541.6 L485 541.8 L486 541.9 L487 542.1 L488 542.1 L489 542.1 L490 542.3 L491 542.8 L492 542.5 L493 542.5 L494 542.6 L495 542.8 L496 543.1 L497 542.7 L498 543 L499 542.6 L500 542.8 L501 542.3 L502 542.3 L503 542.5 L504 542.8 L505 543.1 L506 542.7 L507 542.6 L508 542.2 L509 542.3 L510 542.6 L511 542.8 L512 542.7 L513 542.7 L514 542.9 L515 543.1 L516 542.6 L517 542.4 L518 542.2 L519 542.7 L520 542.5 L521 542.7 L522 542.6 L523 542.6 L524 542.6 L525 542.7 L526 543 L527 543.1 L528 542.9 L529 543 L530 542.8 L531 543.1 L532 543 L533 543.3 L534 543.2 L535 543.2 L536 543.5 L537 543.7 L538 543.7 L539 543.3 L540 543.1 L541 542.8 L542 543.4 L543 543.7 L544 543.8 L545 543.6 L546 543.5 L547 543.5 L548 543.4 L549 543.6 L550 544 L551 543.9 L552 543.9 L553 543.6 L554 543.7 L555 543.5 L556 543.9 L557 543.9 L558 544.1 L559 543.9 L560 543.7 L561 543.8 L562 543.8 L563 543.9 L564 543.5 L565 543.2 L566 543.1 L567 543.4 L568 543.7 L569 543.6 L570 543.1 L571 543 L572 543.2 L573 543.2 L574 543.3 L575 542.9 L576 542.9 L577 542.5 L578 542.6 L579 542.6 L580 543.1 L581 543.5 L582 543.5 L583 543.2 L584 543.2 L585 543.3 L586 543.4 L587 543.2 L588 543.2 L589 543.2 L590 543.3 L591 543.5 L592 544 L593 544 L594 543.9 L595 544 L596 544.2 L597 544.6 L598 544.5 L599 544.8 L600 544.5 L601 544.2 L602 544.2 L603 544.2 L604 544.4 L605 544.4 L606 544.5 L607 544.3 L608 544.1 L609 544.2 L610 544.3 L611 544.2 L612 544 L613 543.8 L614 544.1 L615 543.7 L616 544 L617 543.9 L618 544 L619 544 L620 543.8 L621 543.8 L622 543.3 L623 543.5 L624 543.8 L625 544.1 L626 544.1 L627 544.1 L628 543.8 L629 543.8 L630 543.7 L631 544.2 L632 544.4 L633 544.4 L634 544.3 L635 544.2 L636 544.5 L637 544.7 L638 544.9 L639 544.8 L640 545 L641 545.2 L642 545.3 L643 545.5 L644 545.9" fill="none" stroke="#cdb41c" stroke-width="2.8" stroke-linejoin="round" stroke-linecap="round"/>
<path d="M154.1 539.1 L155.1 538.9 L156.1 538.8 L157.2 538.3 L158.2 538.5 L159.2 538.6 L160.2 539.1 L161.2 539.3 L162.3 539.4 L163.3 539.1 L164.3 539.1 L165.3 539 L166.3 539.2 L167.4 539.4 L168.4 539.7 L169.4 539.4 L170.4 539.3 L171.4 539.3 L172.5 539.5 L173.5 539.7 L174.5 539.8 L175.5 539.9 L176.5 539.9 L177.6 539.8 L178.6 539.9 L179.6 539.6 L180.6 539.6 L181.6 539.5 L182.7 539.8 L183.7 539.6 L184.7 539.3 L185.7 539.3 L186.7 539.7 L187.8 539.8 L188.8 539.6 L189.8 539.3 L190.8 539.2 L191.8 539.5 L192.9 540 L193.9 540.4 L194.9 540.2 L195.9 540.1 L196.9 539.7 L198 540 L199 539.8 L200 539.8 L201 539.7 L202 539.6 L203 539.8 L204 539.5 L205 539.7 L206 539.9 L207 540.3 L208 540.1 L209 540.3 L210 539.9 L211 540.1 L212 540 L213 540.1 L214 540.2 L215 540.2 L216 540.2 L217 540.5 L218 540.3 L219 540.6 L220 540.7 L221 540.9 L222 540.5 L223 540.5 L224 540.2 L225 540.5 L226 540.3 L227 540.4 L228 540.5 L229 540.6 L230 541 L231 540.9 L232 540.8 L233 540.8 L234 540.7 L235 540.9 L236 541.2 L237 541.5 L238 541.6 L239 541.3 L240 541.4 L241 540.9 L242 541 L243 540.6 L244 540.8 L245 540.9 L246 541.3 L247 541.3 L248 541.2 L249 540.9 L250 540.9 L251 540.8 L252 540.8 L253 541 L254 541.2 L255 541.3 L256 541 L257 541.1 L258 541 L259 541 L260 540.9 L261 541.2 L262 541.6 L263 541.7 L264 541.9 L265 541.8 L266 541.8 L267 541.7 L268 541.2 L269 540.9 L270 540.5 L271 541 L272 541.3 L273 541.6 L274 541.3 L275 541.1 L276 540.8 L277 541 L278 541.4 L279 541.4 L280 541.1 L281 540.6 L282 540.7 L283 541.2 L284 541.5 L285 541.6 L286 541.2 L287 540.9 L288 540.8 L289 541.3 L290 541.6 L291 542.2 L292 542.3 L293 542.6 L294 542.4 L295 542.5 L296 542.2 L297 542.1 L298 542 L299 542.3 L300 542.5 L301 542.3 L302 542.1 L303 542.6 L304 542.9 L305 543.4 L306 543.5 L307 543.4 L308 543.3 L309 543.1 L310 543.3 L311 543.4 L312 543.3 L313 542.9 L314 542.6 L315 542.9 L316 543.2 L317 543.1 L318 543.3 L319 543.6 L320 543.9 L321 543.5 L322 543.6 L323 543.7 L324 543.7 L325 543.4 L326 543.5 L327 544 L328 544.2 L329 544.2 L330 543.9 L331 543.7 L332 543.8 L333 543.8 L334 543.7 L335 543.4 L336 543.2 L337 543.2 L338 543 L339 543.2 L340 543.4 L341 543.5 L342 543.3 L343 542.9 L344 542.9 L345 542.6 L346 542.7 L347 542.5 L348 542.8 L349 542.8 L350 542.7 L351 542.6 L352 542.6 L353 542.6 L354 542.3 L355 542.4 L356 542.4 L357 542.3 L358 541.9 L359 542.1 L360 542.1 L361 542.1 L362 542 L363 542.3 L364 542.4 L365 542.3 L366 541.8 L367 541.5 L368 541.5 L369 541.9 L370 541.8 L371 541.3 L372 540.9 L373 541.4 L374 541.4 L375 541.6 L376 541.6 L377 541.8 L378 541.9 L379 541.4 L380 541.1 L381 540.5 L382 540.7 L383 540.6 L384 541.1 L385 541 L386 541 L387 540.8 L388 540.4 L389 540.6 L390 540.1 L391 540.4 L392 540.5 L393 540.9 L394 540.4 L395 540.3 L396 540 L397 540.4 L398 540.2 L399 540.1 L400 539.9 L401 540.1 L402 539.8 L403 539.5 L404 539.4 L405 539.5 L406 539.7 L407 539.5 L408 539.7 L409 539.5 L410 540 L411 540.1 L412 540.3 L413 540 L414 539.9 L415 539.8 L416 539.9 L417 539.7 L418 540.1 L419 540.2 L420 540.3 L421 539.9 L422 540 L423 540.3 L424 540.7 L425 540.4 L426 540.1 L427 539.8 L428 540.2 L429 540.1 L430 540.3 L431 540.4 L432 540.7 L433 540.4 L434 539.8 L435 539.4 L436 539.8 L437 540.1 L438 540.3 L439 540.1 L440 540 L441 540 L442 540.1 L443 540.3 L444 540.4 L445 540.4 L446 540.4 L447 540.4 L448 540.4 L449 539.8 L450 539.7 L451 539.8 L452 540 L453 540 L454 539.6 L455 539.9 L456 539.6 L457 539.9 L458 539.5 L459 539.4 L460 539.1 L461 539.1 L462 539 L463 539 L464 539.4 L465 539.7 L466 539.9 L467 539.8 L468 539.8 L469 539.8 L470 539.8 L471 539.6 L472 539.3 L473 539.2 L474 539.2 L475 539.3 L476 539.7 L477 540.3 L478 540.5 L479 540.6 L480 540.6 L481 541 L482 541.1 L483 541 L484 540.6 L485 540.7 L486 540.6 L487 541 L488 540.8 L489 541 L490 541.2 L491 541.2 L492 541.2 L493 541.1 L494 541.4 L495 541.7 L496 541.6 L497 541.9 L498 541.8 L499 542.1 L500 541.7 L501 541.4 L502 541 L503 541.5 L504 541.3 L505 541.3 L506 541.2 L507 541.7 L508 541.6 L509 541.4 L510 541.2 L511 541.5 L512 541.7 L513 541.7 L514 541.4 L515 541.1 L516 540.7 L517 540.9 L518 540.8 L519 540.9 L520 541.1 L521 541.4 L522 541.6 L523 541.5 L524 541.5 L525 541.6 L526 541.5 L527 541.2 L528 540.9 L529 540.8 L530 541 L531 541.1 L532 541.2 L533 541.3 L534 541.8 L535 542.2 L536 542.1 L537 542.1 L538 541.8 L539 541.8 L540 541.6 L541 541.8 L542 542.1 L543 542.3 L544 542.5 L545 542.2 L546 542.5 L547 542.4 L548 542.8 L549 542.4 L550 542.7 L551 542.3 L552 542.8 L553 542.7 L554 542.9 L555 542.6 L556 542.1 L557 541.8 L558 542.1 L559 542.2 L560 542.4 L561 542.2 L562 542.4 L563 542.1 L564 541.8 L565 541.5 L566 541.9 L567 542 L568 542.3 L569 542 L570 541.9 L571 541.5 L572 541.2 L573 541.5 L574 541.5 L575 542 L576 541.7 L577 542 L578 541.5 L579 541.7 L580 541.4 L581 541.6 L582 541.6 L583 541.6 L584 541.6 L585 541.9 L586 542 L587 542.2 L588 542.3 L589 542.3 L590 542.3 L591 542.1 L592 542.3 L593 542.5 L594 542.8 L595 542.9 L596 543.3 L597 543.1 L598 543.3 L599 543.3 L600 543.5 L601 543.1 L602 542.9 L603 542.8 L604 543 L605 543.1 L606 543 L607 542.8 L608 542.6 L609 542.6 L610 542.7 L611 542.6 L612 542.5 L613 542.4 L614 542.3 L615 542.5 L616 542.9 L617 543 L618 542.7 L619 542.3 L620 542.3 L621 542.6 L622 543 L623 543.1 L624 543.3 L625 542.8 L626 542.8 L627 542.6 L628 542.7 L629 542.3 L630 542.5 L631 542.5 L632 542.4 L633 542.1 L634 542.5 L635 542.7 L636 543.2 L637 543.1 L638 543.4 L639 543.4 L640 543.8 L641 544.2 L642 544.5 L643 544.8 L644 545.3" fill="none" stroke="#c2a600" stroke-width="2.8" stroke-linejoin="round" stroke-linecap="round"/>
<line x1="141" y1="30.5" x2="141" y2="558.5" stroke="#000" stroke-width="2" />
<line x1="140" y1="557.5" x2="645.5" y2="557.5" stroke="#000" stroke-width="2" />
<line x1="644.5" y1="30.5" x2="644.5" y2="558.5" stroke="#000" stroke-width="2" />
<line x1="129.5" y1="31.5" x2="645.5" y2="31.5" stroke="#000" stroke-width="2" />
<line x1="130.5" y1="547" x2="141" y2="547" stroke="#000" stroke-width="2" stroke-linecap="round"/>
<line x1="634" y1="547" x2="644.5" y2="547" stroke="#000" stroke-width="2" stroke-linecap="round"/>
<line x1="136" y1="418.1" x2="141" y2="418.1" stroke="#000" stroke-width="2" stroke-linecap="round"/>
<line x1="639.5" y1="418.1" x2="644.5" y2="418.1" stroke="#000" stroke-width="2" stroke-linecap="round"/>
<line x1="130.5" y1="289.2" x2="141" y2="289.2" stroke="#000" stroke-width="2" stroke-linecap="round"/>
<line x1="634" y1="289.2" x2="644.5" y2="289.2" stroke="#000" stroke-width="2" stroke-linecap="round"/>
<line x1="136" y1="160.4" x2="141" y2="160.4" stroke="#000" stroke-width="2" stroke-linecap="round"/>
<line x1="639.5" y1="160.4" x2="644.5" y2="160.4" stroke="#000" stroke-width="2" stroke-linecap="round"/>
<line x1="130.5" y1="31.5" x2="141" y2="31.5" stroke="#000" stroke-width="2" stroke-linecap="round"/>
<line x1="634" y1="31.5" x2="644.5" y2="31.5" stroke="#000" stroke-width="2" stroke-linecap="round"/>
<line x1="150.5" y1="557.5" x2="150.5" y2="568" stroke="#000" stroke-width="2" stroke-linecap="round"/>
<line x1="150.5" y1="31.5" x2="150.5" y2="42" stroke="#000" stroke-width="2" stroke-linecap="round"/>
<line x1="199.9" y1="557.5" x2="199.9" y2="562" stroke="#000" stroke-width="2" stroke-linecap="round"/>
<line x1="199.9" y1="31.5" x2="199.9" y2="36" stroke="#000" stroke-width="2" stroke-linecap="round"/>
<line x1="249.3" y1="557.5" x2="249.3" y2="568" stroke="#000" stroke-width="2" stroke-linecap="round"/>
<line x1="249.3" y1="31.5" x2="249.3" y2="42" stroke="#000" stroke-width="2" stroke-linecap="round"/>
<line x1="298.7" y1="557.5" x2="298.7" y2="562" stroke="#000" stroke-width="2" stroke-linecap="round"/>
<line x1="298.7" y1="31.5" x2="298.7" y2="36" stroke="#000" stroke-width="2" stroke-linecap="round"/>
<line x1="348.1" y1="557.5" x2="348.1" y2="568" stroke="#000" stroke-width="2" stroke-linecap="round"/>
<line x1="348.1" y1="31.5" x2="348.1" y2="42" stroke="#000" stroke-width="2" stroke-linecap="round"/>
<line x1="397.5" y1="557.5" x2="397.5" y2="562" stroke="#000" stroke-width="2" stroke-linecap="round"/>
<line x1="397.5" y1="31.5" x2="397.5" y2="36" stroke="#000" stroke-width="2" stroke-linecap="round"/>
<line x1="446.9" y1="557.5" x2="446.9" y2="568" stroke="#000" stroke-width="2" stroke-linecap="round"/>
<line x1="446.9" y1="31.5" x2="446.9" y2="42" stroke="#000" stroke-width="2" stroke-linecap="round"/>
<line x1="496.3" y1="557.5" x2="496.3" y2="562" stroke="#000" stroke-width="2" stroke-linecap="round"/>
<line x1="496.3" y1="31.5" x2="496.3" y2="36" stroke="#000" stroke-width="2" stroke-linecap="round"/>
<line x1="545.7" y1="557.5" x2="545.7" y2="568" stroke="#000" stroke-width="2" stroke-linecap="round"/>
<line x1="545.7" y1="31.5" x2="545.7" y2="42" stroke="#000" stroke-width="2" stroke-linecap="round"/>
<line x1="595.1" y1="557.5" x2="595.1" y2="562" stroke="#000" stroke-width="2" stroke-linecap="round"/>
<line x1="595.1" y1="31.5" x2="595.1" y2="36" stroke="#000" stroke-width="2" stroke-linecap="round"/>
<line x1="644.5" y1="557.5" x2="644.5" y2="568" stroke="#000" stroke-width="2" stroke-linecap="round"/>
<line x1="644.5" y1="31.5" x2="644.5" y2="42" stroke="#000" stroke-width="2" stroke-linecap="round"/>
<text x="116" y="43.6" font-size="34" text-anchor="end" >500</text>
<text x="116" y="300.9" font-size="34" text-anchor="end" >250</text>
<text x="116" y="559.2" font-size="34" text-anchor="end" >0</text>
<text x="151" y="605.3" font-size="34" text-anchor="middle" >0</text>
<path d="M234.1 605.3 L231.1 605.3 L231.1 588.1 L225.1 588.1 L225.1 586 C229.3 585.6 231.2 584.4 231.8 581.2 L234.1 581.2 Z" fill="#000"/>
<text x="240.3" y="605.3" font-size="34" >00</text>
<text x="348.6" y="605.3" font-size="34" text-anchor="middle" >200</text>
<text x="447.4" y="605.3" font-size="34" text-anchor="middle" >300</text>
<text x="546.2" y="605.3" font-size="34" text-anchor="middle" >400</text>
<text x="645" y="605.3" font-size="34" text-anchor="middle" >500</text>
<text x="389.5" y="650.2" font-size="33" text-anchor="middle"><tspan font-style="italic">t</tspan> (s)</text>
<text transform="translate(28.6 286.9) rotate(-90)" font-size="33" text-anchor="middle"><tspan font-style="italic">x</tspan> (µm)</text>
<text transform="translate(-0.5 31.5) scale(0.93 1)" font-size="42" font-weight="bold">a</text>
<rect x="202.3" y="47.6" width="220.09999999999997" height="220.9" fill="#fff"/>
<clipPath id="ic"><rect x="202.3" y="47.6" width="220.09999999999997" height="220.9"/></clipPath>
<g clip-path="url(#ic)">
<path d="M202.5 266.9 L203.2 266.3 L203.9 265.6 L204.7 264.9 L205.4 264.1 L206.1 263.4 L206.8 262.8 L207.6 262 L208.3 261.3 L209 260.6 L209.7 259.9 L210.5 259.1 L211.2 258.4 L211.9 257.8 L212.6 257.2 L213.4 256.5 L214.1 255.6 L214.8 254.9 L215.5 254 L216.3 253.3 L217 252.5 L217.7 251.9 L218.4 251.2 L219.2 250.4 L219.9 249.4 L220.6 248.8 L221.3 248 L222.1 247.3 L222.8 246.7 L223.5 246.1 L224.6 246.7 L225.8 247 L226.9 247.5 L228 247.7 L228.7 247.1 L229.4 246.3 L230.1 245.7 L230.8 244.8 L231.5 244.3 L232.2 243.6 L233 243 L233.7 242.2 L234.4 241.4 L235.1 240.6 L235.8 239.8 L236.5 239.3 L237.2 238.5 L237.9 237.7 L238.6 237 L239.3 236.3 L240 235.6 L240.7 234.7 L241.4 234.1 L242.1 233.3 L242.9 232.6 L243.6 231.7 L244.3 231.2 L245 230.4 L245.7 229.8 L246.4 228.9 L247.1 228.3 L247.8 227.6 L248.5 226.9 L249.2 226.1 L249.9 225.3 L250.6 224.5 L251.3 224 L252 223.2 L252.8 222.5 L253.5 221.7 L254.2 221.1 L254.9 220.5 L255.6 219.7 L256.3 218.9 L257 218 L258 218.3 L259 218.6 L260 218.9 L260.7 218.2 L261.3 217.5 L262 216.8 L262.7 216 L263.3 215.2 L264 214.4 L264.7 213.5 L265.3 212.7 L266 211.9 L266.7 211 L267.3 210.3 L268 209.3 L269 209.5 L270 209.8 L271 210 L272 210.1 L272.8 209.3 L273.5 208.6 L274.2 208 L275 207.3 L275.8 206.6 L276.5 205.7 L277.2 205 L278 204.3 L278.8 203.7 L279.5 203.2 L280.2 202.5 L281 201.9 L281.8 201.1 L282.5 200.2 L283.2 199.5 L284 198.9 L284.8 198.2 L285.5 197.5 L286.2 196.7 L287 196.1 L287.8 195.3 L288.5 194.7 L289.2 194.1 L290 193.3 L290.8 192.7 L291.5 192 L292.2 191.4 L293 190.7 L293.8 190 L294.5 189.2 L295.2 188.5 L296 187.8 L296.8 187.3 L297.5 186.6 L298.2 185.8 L299 185.2 L299.8 184.5 L300.5 183.9 L301.2 183 L302 182.4 L302.8 181.7 L303.5 181 L304.2 180.3 L305 179.8 L305.8 179.1 L306.5 178.3 L307.2 177.5 L308 176.9 L309 176.5 L310 176.1 L311 175.6 L312 175.1 L313 175.2 L314 175.2 L315 175.2 L316 175.3 L317 175.5 L318 175.5 L319 175.6 L320 175.8 L320.7 175.1 L321.4 174.3 L322.1 173.6 L322.8 172.8 L323.5 172 L324.1 171.2 L324.8 170.4 L325.5 169.7 L326.2 168.9 L326.9 168.3 L327.6 167.6 L328.3 167 L329 166.4 L329.7 165.5 L330.4 164.8 L331.1 164 L331.7 163.3 L332.4 162.5 L333.1 161.8 L333.8 160.9 L334.5 160.2 L335.2 159.4 L335.9 158.8 L336.6 158.2 L337.3 157.4 L338 156.7 L338.7 155.8 L339.3 154.9 L340 154.1 L340.7 153.5 L341.4 152.8 L342.1 152 L342.8 151.1 L343.8 151.4 L344.7 152 L345.7 152.4 L346.6 152.8 L347.3 151.9 L348 151.4 L348.7 150.8 L349.4 150 L350.1 149.2 L350.8 148.5 L351.5 147.9 L352.2 147.2 L352.9 146.4 L353.6 145.5 L354.4 144.9 L355.1 144.2 L355.8 143.4 L356.5 142.7 L357.2 141.9 L357.9 141.1 L358.6 140.3 L359.3 139.6 L360 139 L360.7 138.4 L361.4 137.7 L362.6 138 L363.8 138.2 L364.9 138.4 L366.1 138.6 L366.8 137.7 L367.5 137.1 L368.2 136.4 L368.9 135.6 L369.6 134.7 L370.3 134 L371 133.3 L371.7 132.7 L372.5 131.8 L373.2 131.2 L373.9 130.5 L374.6 129.7 L375.3 128.9 L376 128 L376.7 127.4 L377.4 126.7 L378.1 126.1 L378.8 125.3 L379.5 124.4 L380.2 123.6 L380.9 122.9 L381.6 122.2 L382.3 121.3 L383 120.6 L383.8 119.9 L384.5 119.2 L385.2 118.4 L385.9 117.7 L386.6 116.9 L387.3 116.2 L388 115.6 L388.7 114.7 L389.4 114 L390.4 113.9 L391.5 114 L392.5 114 L393.5 114.1 L394.6 114.1 L395.6 114.2 L396.3 113.3 L397 112.5 L397.7 111.7 L398.5 111 L399.2 110.2 L399.9 109.3 L400.6 108.7 L401.3 108.1 L402 107.5 L402.8 106.8 L403.5 106 L404.2 105.2 L404.9 104.3 L405.6 103.5 L406.3 102.7 L407.1 102 L407.8 101.1 L408.5 100.4 L409.2 99.6 L409.9 98.9 L410.6 98.3 L411.4 97.6 L412.1 97 L412.8 96 L413.5 95.1 L414.7 95 L415.8 94.8 L417 94.7 L418.1 94.8 L419.1 94.8 L420.2 94.9 L421.3 94.8 L422.3 94.7" fill="none" stroke="#ff4aa5" stroke-width="5.5" stroke-linecap="butt" stroke-linejoin="miter" stroke-miterlimit="3"/>
<line x1="202" y1="267.3" x2="422.6" y2="91.3" stroke="rgba(62,62,62,0.74)" stroke-width="3.4" />
</g>
<line x1="202.3" y1="46.9" x2="202.3" y2="269.2" stroke="#000" stroke-width="1.5" />
<line x1="201.6" y1="268.5" x2="423.1" y2="268.5" stroke="#000" stroke-width="1.5" />
<line x1="422.4" y1="46.9" x2="422.4" y2="269.2" stroke="#000" stroke-width="1.5" />
<line x1="197.2" y1="47.6" x2="423.1" y2="47.6" stroke="#000" stroke-width="1.5" />
<line x1="197.3" y1="268.5" x2="202.3" y2="268.5" stroke="#000" stroke-width="1.5" />
<line x1="199.3" y1="213.3" x2="202.3" y2="213.3" stroke="#000" stroke-width="1.5" />
<line x1="419.4" y1="213.3" x2="422.4" y2="213.3" stroke="#000" stroke-width="1.5" />
<line x1="197.3" y1="158.1" x2="202.3" y2="158.1" stroke="#000" stroke-width="1.5" />
<line x1="417.4" y1="158.1" x2="422.4" y2="158.1" stroke="#000" stroke-width="1.5" />
<line x1="199.3" y1="102.8" x2="202.3" y2="102.8" stroke="#000" stroke-width="1.5" />
<line x1="419.4" y1="102.8" x2="422.4" y2="102.8" stroke="#000" stroke-width="1.5" />
<line x1="197.3" y1="47.6" x2="202.3" y2="47.6" stroke="#000" stroke-width="1.5" />
<line x1="202.3" y1="268.5" x2="202.3" y2="273" stroke="#000" stroke-width="1.5" />
<line x1="257.3" y1="268.5" x2="257.3" y2="271.5" stroke="#000" stroke-width="1.5" />
<line x1="257.3" y1="47.6" x2="257.3" y2="50.1" stroke="#000" stroke-width="1.5" />
<line x1="312.4" y1="268.5" x2="312.4" y2="273" stroke="#000" stroke-width="1.5" />
<line x1="312.4" y1="47.6" x2="312.4" y2="52.6" stroke="#000" stroke-width="1.5" />
<line x1="367.4" y1="268.5" x2="367.4" y2="271.5" stroke="#000" stroke-width="1.5" />
<line x1="367.4" y1="47.6" x2="367.4" y2="50.1" stroke="#000" stroke-width="1.5" />
<line x1="422.4" y1="268.5" x2="422.4" y2="273" stroke="#000" stroke-width="1.5" />
<text x="194" y="54.7" font-size="14.5" text-anchor="end" >2000</text>
<path d="M167.1 162.8 L165.9 162.8 L165.9 155.5 L163.3 155.5 L163.3 154.6 C165.1 154.4 165.9 153.9 166.2 152.5 L167.1 152.5 Z" fill="#000"/>
<text x="169.8" y="162.8" font-size="14.5" >000</text>
<text x="194" y="273.7" font-size="14.5" text-anchor="end" >0</text>
<text x="202.6" y="291" font-size="14.5" text-anchor="middle" >0</text>
<path d="M301.9 291 L300.6 291 L300.6 283.7 L298.1 283.7 L298.1 282.8 C299.9 282.6 300.7 282.1 301 280.7 L301.9 280.7 Z" fill="#000"/>
<text x="304.6" y="291" font-size="14.5" >000</text>
<text x="422.7" y="291" font-size="14.5" text-anchor="middle" >2000</text>
<text x="319.5" y="311.5" font-size="14" text-anchor="middle"><tspan font-style="italic">t</tspan> (s)</text>
<text transform="translate(156.3 159) rotate(-90)" font-size="14" text-anchor="middle"><tspan font-style="italic">x</tspan> (µm)</text>
<g transform="translate(307.5 150.8) rotate(-37)">
<path d="M-10.2 -14.6 L-17.4 0.5 L-10.2 15.6 M10.2 -14.3 L17.5 1 L10.2 15.9" fill="none" stroke="#000" stroke-width="1.5" stroke-linejoin="miter"/>
<text x="0.2" y="9.6" font-size="31" text-anchor="middle" stroke="#000" stroke-width="0.15">v</text>
</g>
<line x1="836.3" y1="29.6" x2="836.3" y2="557.5" stroke="#000" stroke-width="2" />
<line x1="835.3" y1="556.5" x2="1322.2" y2="556.5" stroke="#000" stroke-width="2" />
<line x1="1321.2" y1="29.6" x2="1321.2" y2="557.5" stroke="#000" stroke-width="2" />
<line x1="824.8" y1="30.6" x2="1322.2" y2="30.6" stroke="#000" stroke-width="2" />
<line x1="825.8" y1="531.8" x2="836.3" y2="531.8" stroke="#000" stroke-width="2" stroke-linecap="round"/>
<line x1="1310.7" y1="531.8" x2="1321.2" y2="531.8" stroke="#000" stroke-width="2" stroke-linecap="round"/>
<line x1="831.8" y1="481.7" x2="836.3" y2="481.7" stroke="#000" stroke-width="2" stroke-linecap="round"/>
<line x1="1316.7" y1="481.7" x2="1321.2" y2="481.7" stroke="#000" stroke-width="2" stroke-linecap="round"/>
<line x1="825.8" y1="431.6" x2="836.3" y2="431.6" stroke="#000" stroke-width="2" stroke-linecap="round"/>
<line x1="1310.7" y1="431.6" x2="1321.2" y2="431.6" stroke="#000" stroke-width="2" stroke-linecap="round"/>
<line x1="831.8" y1="381.5" x2="836.3" y2="381.5" stroke="#000" stroke-width="2" stroke-linecap="round"/>
<line x1="1316.7" y1="381.5" x2="1321.2" y2="381.5" stroke="#000" stroke-width="2" stroke-linecap="round"/>
<line x1="825.8" y1="331.4" x2="836.3" y2="331.4" stroke="#000" stroke-width="2" stroke-linecap="round"/>
<line x1="1310.7" y1="331.4" x2="1321.2" y2="331.4" stroke="#000" stroke-width="2" stroke-linecap="round"/>
<line x1="831.8" y1="281.3" x2="836.3" y2="281.3" stroke="#000" stroke-width="2" stroke-linecap="round"/>
<line x1="1316.7" y1="281.3" x2="1321.2" y2="281.3" stroke="#000" stroke-width="2" stroke-linecap="round"/>
<line x1="825.8" y1="231.2" x2="836.3" y2="231.2" stroke="#000" stroke-width="2" stroke-linecap="round"/>
<line x1="1310.7" y1="231.2" x2="1321.2" y2="231.2" stroke="#000" stroke-width="2" stroke-linecap="round"/>
<line x1="831.8" y1="181.1" x2="836.3" y2="181.1" stroke="#000" stroke-width="2" stroke-linecap="round"/>
<line x1="1316.7" y1="181.1" x2="1321.2" y2="181.1" stroke="#000" stroke-width="2" stroke-linecap="round"/>
<line x1="825.8" y1="131" x2="836.3" y2="131" stroke="#000" stroke-width="2" stroke-linecap="round"/>
<line x1="1310.7" y1="131" x2="1321.2" y2="131" stroke="#000" stroke-width="2" stroke-linecap="round"/>
<line x1="831.8" y1="80.9" x2="836.3" y2="80.9" stroke="#000" stroke-width="2" stroke-linecap="round"/>
<line x1="1316.7" y1="80.9" x2="1321.2" y2="80.9" stroke="#000" stroke-width="2" stroke-linecap="round"/>
<line x1="825.8" y1="30.8" x2="836.3" y2="30.8" stroke="#000" stroke-width="2" stroke-linecap="round"/>
<line x1="1310.7" y1="30.8" x2="1321.2" y2="30.8" stroke="#000" stroke-width="2" stroke-linecap="round"/>
<line x1="836.3" y1="556.5" x2="836.3" y2="567" stroke="#000" stroke-width="2" stroke-linecap="round"/>
<line x1="836.3" y1="30.6" x2="836.3" y2="41.1" stroke="#000" stroke-width="2" stroke-linecap="round"/>
<line x1="903.4" y1="556.5" x2="903.4" y2="561" stroke="#000" stroke-width="2" stroke-linecap="round"/>
<line x1="903.4" y1="30.6" x2="903.4" y2="35.1" stroke="#000" stroke-width="2" stroke-linecap="round"/>
<line x1="942.6" y1="556.5" x2="942.6" y2="561" stroke="#000" stroke-width="2" stroke-linecap="round"/>
<line x1="942.6" y1="30.6" x2="942.6" y2="35.1" stroke="#000" stroke-width="2" stroke-linecap="round"/>
<line x1="970.5" y1="556.5" x2="970.5" y2="561" stroke="#000" stroke-width="2" stroke-linecap="round"/>
<line x1="970.5" y1="30.6" x2="970.5" y2="35.1" stroke="#000" stroke-width="2" stroke-linecap="round"/>
<line x1="992.1" y1="556.5" x2="992.1" y2="561" stroke="#000" stroke-width="2" stroke-linecap="round"/>
<line x1="992.1" y1="30.6" x2="992.1" y2="35.1" stroke="#000" stroke-width="2" stroke-linecap="round"/>
<line x1="1009.7" y1="556.5" x2="1009.7" y2="561" stroke="#000" stroke-width="2" stroke-linecap="round"/>
<line x1="1009.7" y1="30.6" x2="1009.7" y2="35.1" stroke="#000" stroke-width="2" stroke-linecap="round"/>
<line x1="1024.6" y1="556.5" x2="1024.6" y2="561" stroke="#000" stroke-width="2" stroke-linecap="round"/>
<line x1="1024.6" y1="30.6" x2="1024.6" y2="35.1" stroke="#000" stroke-width="2" stroke-linecap="round"/>
<line x1="1037.6" y1="556.5" x2="1037.6" y2="561" stroke="#000" stroke-width="2" stroke-linecap="round"/>
<line x1="1037.6" y1="30.6" x2="1037.6" y2="35.1" stroke="#000" stroke-width="2" stroke-linecap="round"/>
<line x1="1049" y1="556.5" x2="1049" y2="561" stroke="#000" stroke-width="2" stroke-linecap="round"/>
<line x1="1049" y1="30.6" x2="1049" y2="35.1" stroke="#000" stroke-width="2" stroke-linecap="round"/>
<line x1="1059.1" y1="556.5" x2="1059.1" y2="567" stroke="#000" stroke-width="2" stroke-linecap="round"/>
<line x1="1059.1" y1="30.6" x2="1059.1" y2="41.1" stroke="#000" stroke-width="2" stroke-linecap="round"/>
<line x1="1126.2" y1="556.5" x2="1126.2" y2="561" stroke="#000" stroke-width="2" stroke-linecap="round"/>
<line x1="1126.2" y1="30.6" x2="1126.2" y2="35.1" stroke="#000" stroke-width="2" stroke-linecap="round"/>
<line x1="1165.5" y1="556.5" x2="1165.5" y2="561" stroke="#000" stroke-width="2" stroke-linecap="round"/>
<line x1="1165.5" y1="30.6" x2="1165.5" y2="35.1" stroke="#000" stroke-width="2" stroke-linecap="round"/>
<line x1="1193.3" y1="556.5" x2="1193.3" y2="561" stroke="#000" stroke-width="2" stroke-linecap="round"/>
<line x1="1193.3" y1="30.6" x2="1193.3" y2="35.1" stroke="#000" stroke-width="2" stroke-linecap="round"/>
<line x1="1214.9" y1="556.5" x2="1214.9" y2="561" stroke="#000" stroke-width="2" stroke-linecap="round"/>
<line x1="1214.9" y1="30.6" x2="1214.9" y2="35.1" stroke="#000" stroke-width="2" stroke-linecap="round"/>
<line x1="1232.6" y1="556.5" x2="1232.6" y2="561" stroke="#000" stroke-width="2" stroke-linecap="round"/>
<line x1="1232.6" y1="30.6" x2="1232.6" y2="35.1" stroke="#000" stroke-width="2" stroke-linecap="round"/>
<line x1="1247.5" y1="556.5" x2="1247.5" y2="561" stroke="#000" stroke-width="2" stroke-linecap="round"/>
<line x1="1247.5" y1="30.6" x2="1247.5" y2="35.1" stroke="#000" stroke-width="2" stroke-linecap="round"/>
<line x1="1260.4" y1="556.5" x2="1260.4" y2="561" stroke="#000" stroke-width="2" stroke-linecap="round"/>
<line x1="1260.4" y1="30.6" x2="1260.4" y2="35.1" stroke="#000" stroke-width="2" stroke-linecap="round"/>
<line x1="1271.8" y1="556.5" x2="1271.8" y2="561" stroke="#000" stroke-width="2" stroke-linecap="round"/>
<line x1="1271.8" y1="30.6" x2="1271.8" y2="35.1" stroke="#000" stroke-width="2" stroke-linecap="round"/>
<line x1="1282" y1="556.5" x2="1282" y2="567" stroke="#000" stroke-width="2" stroke-linecap="round"/>
<line x1="1282" y1="30.6" x2="1282" y2="41.1" stroke="#000" stroke-width="2" stroke-linecap="round"/>
<text x="808" y="543.8" font-size="34" text-anchor="end" >0.0</text>
<text x="808" y="443.6" font-size="34" text-anchor="end" >0.2</text>
<text x="808" y="343.4" font-size="34" text-anchor="end" >0.4</text>
<text x="808" y="243.2" font-size="34" text-anchor="end" >0.6</text>
<text x="808" y="143" font-size="34" text-anchor="end" >0.8</text>
<path d="M773.4 42.8 L770.4 42.8 L770.4 25.6 L764.4 25.6 L764.4 23.5 C768.6 23.1 770.5 21.9 771.1 18.7 L773.4 18.7 Z" fill="#000"/>
<text x="779.6" y="42.8" font-size="34" >.0</text>
<text x="811.7" y="609.5" font-size="34" >0.</text>
<path d="M852.7 609.5 L849.7 609.5 L849.7 592.3 L843.7 592.3 L843.7 590.2 C847.8 589.8 849.8 588.6 850.4 585.4 L852.7 585.4 Z" fill="#000"/>
<path d="M1061.3 609.5 L1058.4 609.5 L1058.4 592.3 L1052.4 592.3 L1052.4 590.2 C1056.5 589.8 1058.5 588.6 1059.1 585.4 L1061.3 585.4 Z" fill="#000"/>
<path d="M1274.7 609.5 L1271.8 609.5 L1271.8 592.3 L1265.8 592.3 L1265.8 590.2 C1269.9 589.8 1271.9 588.6 1272.5 585.4 L1274.7 585.4 Z" fill="#000"/>
<text x="1281" y="609.5" font-size="34" >0</text>
<text x="686" y="31.4" font-size="42" font-weight="bold">b</text>
<line x1="939.8" y1="539.1" x2="977.2" y2="531" stroke="#0000ff" stroke-width="2.2" />
<line x1="1006.3" y1="522.4" x2="1044.9" y2="507.7" stroke="#0000ff" stroke-width="2.2" />
<line x1="1062.9" y1="487.5" x2="1122.5" y2="250.9" stroke="#0000ff" stroke-width="2.2" />
<line x1="1131.5" y1="222" x2="1160.2" y2="144.3" stroke="#0000ff" stroke-width="2.2" />
<line x1="1167.3" y1="145.1" x2="1191.5" y2="351.4" stroke="#0000ff" stroke-width="2.2" />
<line x1="1198.1" y1="380.9" x2="1210.2" y2="417.7" stroke="#0000ff" stroke-width="2.2" />
<line x1="1223.7" y1="444.5" x2="1273.2" y2="514.5" stroke="#0000ff" stroke-width="2.2" />
<path d="M917.2 529.3 L940.5 542.3 L917.2 555.3 Z" fill="#0000ff"/>
<path d="M984.3 514.8 L1007.6 527.8 L984.3 540.8 Z" fill="#0000ff"/>
<path d="M1051.4 489.2 L1074.7 502.2 L1051.4 515.2 Z" fill="#0000ff"/>
<path d="M1118.5 223.2 L1141.8 236.2 L1118.5 249.2 Z" fill="#0000ff"/>
<path d="M1157.7 117 L1181 130 L1157.7 143 Z" fill="#0000ff"/>
<path d="M1185.6 353.5 L1208.9 366.5 L1185.6 379.5 Z" fill="#0000ff"/>
<path d="M1207.1 419.1 L1230.4 432.1 L1207.1 445.1 Z" fill="#0000ff"/>
<path d="M1274.2 513.9 L1297.5 526.9 L1274.2 539.9 Z" fill="#0000ff"/>
<line x1="836.3" y1="532.1" x2="1321.2" y2="532.1" stroke="#202020" stroke-width="1.2" />
<g transform="translate(723.8 381.6) rotate(-90)">
<path d="M8.3 -24.2 L0.7 -9.5 L8.3 5.2 M26.9 -24.2 L34.5 -9.5 L26.9 5.2" fill="none" stroke="#000" stroke-width="1.5"/>
<text x="17.7" y="0" font-size="33" text-anchor="middle" stroke="#000" stroke-width="0.4">v</text>
<text x="45.9" y="0" font-size="33">(µm s</text>
</g>
<g transform="translate(723.8 381.6) rotate(-90)">
<text x="129.3" y="-8.8" font-size="24.5">−</text>
<path d="M152.7 -8.8 L150.6 -8.8 L150.6 -21.2 L146.2 -21.2 L146.2 -22.7 C149.2 -23 150.7 -23.9 151.1 -26.2 L152.7 -26.2 Z" fill="#000"/>
<text x="157" y="0" font-size="33">)</text>
</g>
<text x="1060.5" y="658" font-size="33">(µm s</text>
<text x="1143.5" y="649.3" font-size="24.5">−</text>
<path d="M1166.9 649.3 L1164.8 649.3 L1164.8 636.9 L1160.4 636.9 L1160.4 635.4 C1163.4 635.1 1164.9 634.2 1165.3 631.9 L1166.9 631.9 Z" fill="#000"/>
<text x="1171" y="658" font-size="33">)</text>
<path d="M995.4 644.8 C994.9 647.5 994.3 650.5 994.4 653.5 C994.6 656.5 996 658.2 997.9 658.3" fill="none" stroke="#000" stroke-width="2.5" stroke-linecap="round"/>
<path d="M997.6 658.3 C1001 658.3 1004.3 654 1004.6 649 C1004.8 645.5 1003.6 643.6 1002 643.2" fill="none" stroke="#000" stroke-width="1.25" stroke-linecap="round"/>
<circle cx="995.3" cy="644.6" r="1.7" fill="#000"/>
<text x="1007.5" y="649.6" font-size="26" font-style="italic">max</text>
<text x="1006" y="668.8" font-size="26" font-style="italic">p</text>
</svg>
</body></html>
